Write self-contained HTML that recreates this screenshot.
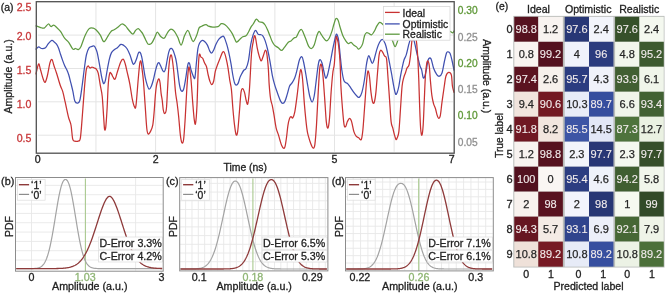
<!DOCTYPE html>
<html><head><meta charset="utf-8"><title>Figure</title>
<style>html,body{margin:0;padding:0;background:#fff;width:666px;height:293px;overflow:hidden}svg{display:block;font-family:"Liberation Sans",sans-serif;will-change:transform}</style>
</head><body>
<svg width="666" height="293" viewBox="0 0 666 293" font-family="Liberation Sans, sans-serif">
<rect width="666" height="293" fill="#fff"/>
<line x1="95.94" y1="2.70" x2="95.94" y2="151.70" stroke="#e4e4e4" stroke-width="1"/>
<line x1="155.58" y1="2.70" x2="155.58" y2="151.70" stroke="#e4e4e4" stroke-width="1"/>
<line x1="215.22" y1="2.70" x2="215.22" y2="151.70" stroke="#e4e4e4" stroke-width="1"/>
<line x1="274.86" y1="2.70" x2="274.86" y2="151.70" stroke="#e4e4e4" stroke-width="1"/>
<line x1="334.50" y1="2.70" x2="334.50" y2="151.70" stroke="#e4e4e4" stroke-width="1"/>
<line x1="394.14" y1="2.70" x2="394.14" y2="151.70" stroke="#e4e4e4" stroke-width="1"/>
<line x1="37.80" y1="35.10" x2="453.20" y2="35.10" stroke="#e4e4e4" stroke-width="1"/>
<line x1="37.80" y1="68.50" x2="453.20" y2="68.50" stroke="#e4e4e4" stroke-width="1"/>
<line x1="37.80" y1="101.80" x2="453.20" y2="101.80" stroke="#e4e4e4" stroke-width="1"/>
<line x1="37.80" y1="135.20" x2="453.20" y2="135.20" stroke="#e4e4e4" stroke-width="1"/>
<g fill="none" stroke-width="1.25" stroke-linejoin="round" stroke-linecap="round">
<path d="M36.00,25.90 C36.68,26.13 38.73,26.93 40.10,27.30 C41.47,27.67 42.83,28.65 44.20,28.10 C45.57,27.55 47.17,24.27 48.30,24.00 C49.43,23.73 50.10,26.32 51.00,26.50 C51.90,26.68 52.78,24.97 53.70,25.10 C54.62,25.23 55.37,26.25 56.50,27.30 C57.63,28.35 59.15,29.58 60.50,31.40 C61.85,33.22 63.23,36.38 64.60,38.20 C65.97,40.02 67.33,40.48 68.70,42.30 C70.07,44.12 71.67,48.07 72.80,49.10 C73.93,50.13 74.58,48.42 75.50,48.50 C76.42,48.58 77.38,49.95 78.30,49.60 C79.22,49.25 79.87,48.75 81.00,46.40 C82.13,44.05 83.73,38.47 85.10,35.50 C86.47,32.53 87.83,29.83 89.20,28.60 C90.57,27.37 92.13,27.87 93.30,28.10 C94.47,28.33 95.03,28.83 96.20,30.00 C97.37,31.17 99.12,33.22 100.30,35.10 C101.48,36.98 102.45,40.43 103.30,41.30 C104.15,42.17 104.53,41.33 105.40,40.30 C106.27,39.27 107.48,36.65 108.50,35.10 C109.52,33.55 110.63,31.85 111.50,31.00 C112.37,30.15 112.65,30.62 113.70,30.00 C114.75,29.38 116.43,28.30 117.80,27.30 C119.17,26.30 120.62,24.23 121.90,24.00 C123.18,23.77 124.37,24.90 125.50,25.90 C126.63,26.90 127.48,28.63 128.70,30.00 C129.92,31.37 131.67,34.02 132.80,34.10 C133.93,34.18 134.58,31.42 135.50,30.50 C136.42,29.58 137.38,28.45 138.30,28.60 C139.22,28.75 140.25,30.52 141.00,31.40 C141.75,32.28 142.05,32.55 142.80,33.90 C143.55,35.25 144.63,37.80 145.50,39.50 C146.37,41.20 147.17,43.35 148.00,44.10 C148.83,44.85 149.80,44.28 150.50,44.00 C151.20,43.72 151.48,43.52 152.20,42.40 C152.92,41.28 153.95,39.00 154.80,37.30 C155.65,35.60 156.32,32.33 157.30,32.20 C158.28,32.07 159.55,35.50 160.70,36.50 C161.85,37.50 163.23,38.53 164.20,38.20 C165.17,37.87 165.80,35.65 166.50,34.50 C167.20,33.35 167.65,32.20 168.40,31.30 C169.15,30.40 170.00,29.10 171.00,29.10 C172.00,29.10 173.27,29.93 174.40,31.30 C175.53,32.67 176.67,35.02 177.80,37.30 C178.93,39.58 180.07,45.28 181.20,45.00 C182.33,44.72 183.47,38.02 184.60,35.60 C185.73,33.18 187.00,30.35 188.00,30.50 C189.00,30.65 189.73,34.65 190.60,36.50 C191.47,38.35 192.20,41.75 193.20,41.60 C194.20,41.45 195.62,37.88 196.60,35.60 C197.58,33.32 198.25,29.47 199.10,27.90 C199.95,26.33 200.55,26.77 201.70,26.20 C202.85,25.63 204.87,24.50 206.00,24.50 C207.13,24.50 207.37,25.77 208.50,26.20 C209.63,26.63 211.23,27.02 212.80,27.10 C214.37,27.18 216.48,27.27 217.90,26.70 C219.32,26.13 220.17,24.07 221.30,23.70 C222.43,23.33 223.42,23.65 224.70,24.50 C225.98,25.35 227.72,27.23 229.00,28.80 C230.28,30.37 231.23,31.77 232.40,33.90 C233.57,36.03 235.13,40.33 236.00,41.60 C236.87,42.87 236.93,41.92 237.60,41.50 C238.27,41.08 239.13,39.90 240.00,39.10 C240.87,38.30 241.80,37.25 242.80,36.70 C243.80,36.15 245.07,36.55 246.00,35.80 C246.93,35.05 247.60,33.60 248.40,32.20 C249.20,30.80 250.00,28.77 250.80,27.40 C251.60,26.03 252.27,25.38 253.20,24.00 C254.13,22.62 255.42,19.47 256.40,19.10 C257.38,18.73 258.10,21.25 259.10,21.80 C260.10,22.35 261.40,21.87 262.40,22.40 C263.40,22.93 264.25,23.77 265.10,25.00 C265.95,26.23 266.70,28.00 267.50,29.80 C268.30,31.60 269.10,33.80 269.90,35.80 C270.70,37.80 271.50,40.20 272.30,41.80 C273.10,43.40 273.70,44.40 274.70,45.40 C275.70,46.40 277.17,46.97 278.30,47.80 C279.43,48.63 280.52,50.42 281.50,50.40 C282.48,50.38 283.07,49.05 284.20,47.70 C285.33,46.35 287.17,43.43 288.30,42.30 C289.43,41.17 290.10,41.58 291.00,40.90 C291.90,40.22 292.78,38.88 293.70,38.20 C294.62,37.52 295.58,37.93 296.50,36.80 C297.42,35.67 298.38,32.62 299.20,31.40 C300.02,30.18 300.72,29.28 301.40,29.50 C302.08,29.72 302.53,31.03 303.30,32.70 C304.07,34.37 305.10,37.22 306.00,39.50 C306.90,41.78 307.78,44.90 308.70,46.40 C309.62,47.90 310.58,48.73 311.50,48.50 C312.42,48.27 313.30,47.17 314.20,45.00 C315.10,42.83 316.08,37.77 316.90,35.50 C317.72,33.23 318.42,31.63 319.10,31.40 C319.78,31.17 320.23,32.97 321.00,34.10 C321.77,35.23 322.78,37.07 323.70,38.20 C324.62,39.33 325.58,40.90 326.50,40.90 C327.42,40.90 328.30,39.78 329.20,38.20 C330.10,36.62 331.13,33.68 331.90,31.40 C332.67,29.12 333.12,26.65 333.80,24.50 C334.48,22.35 335.27,19.17 336.00,18.50 C336.73,17.83 337.52,19.03 338.20,20.50 C338.88,21.97 339.33,24.80 340.10,27.30 C340.87,29.80 341.90,33.32 342.80,35.50 C343.70,37.68 344.58,39.05 345.50,40.40 C346.42,41.75 347.38,43.28 348.30,43.60 C349.22,43.92 350.10,42.07 351.00,42.30 C351.90,42.53 352.78,44.23 353.70,45.00 C354.62,45.77 355.72,46.22 356.50,46.90 C357.28,47.58 357.73,48.97 358.40,49.10 C359.07,49.23 359.78,48.62 360.50,47.70 C361.22,46.78 362.02,45.63 362.70,43.60 C363.38,41.57 363.97,37.32 364.60,35.50 C365.23,33.68 365.82,33.07 366.50,32.70 C367.18,32.33 367.87,32.93 368.70,33.30 C369.53,33.67 370.58,35.22 371.50,34.90 C372.42,34.58 373.30,32.90 374.20,31.40 C375.10,29.90 376.00,27.40 376.90,25.90 C377.80,24.40 378.68,22.72 379.60,22.40 C380.52,22.08 381.33,23.07 382.40,24.00 C383.47,24.93 385.07,26.67 386.00,28.00 C386.93,29.33 387.25,30.58 388.00,32.00 C388.75,33.42 389.77,35.08 390.50,36.50 C391.23,37.92 391.63,38.82 392.40,40.50 C393.17,42.18 394.20,46.60 395.10,46.60 C396.00,46.60 396.98,42.43 397.80,40.50 C398.62,38.57 399.13,36.42 400.00,35.00 C400.87,33.58 401.67,33.17 403.00,32.00 C404.33,30.83 406.00,28.33 408.00,28.00 C410.00,27.67 412.67,30.17 415.00,30.00 C417.33,29.83 419.50,27.83 422.00,27.00 C424.50,26.17 427.33,25.00 430.00,25.00 C432.67,25.00 435.50,26.17 438.00,27.00 C440.50,27.83 443.00,29.27 445.00,30.00 C447.00,30.73 448.72,30.93 450.00,31.40 C451.28,31.87 452.03,32.87 452.70,32.80 C453.37,32.73 453.78,31.30 454.00,31.00" stroke="#5f9a40"/>
<path d="M36.00,49.10 C36.45,48.73 37.78,47.00 38.70,46.90 C39.62,46.80 40.37,48.37 41.50,48.50 C42.63,48.63 44.37,48.52 45.50,47.70 C46.63,46.88 47.25,44.82 48.30,43.60 C49.35,42.38 50.77,40.63 51.80,40.40 C52.83,40.17 53.72,41.57 54.50,42.20 C55.28,42.83 55.82,43.18 56.50,44.20 C57.18,45.22 57.92,46.58 58.60,48.30 C59.28,50.02 59.92,52.45 60.60,54.50 C61.28,56.55 62.02,58.73 62.70,60.60 C63.38,62.47 64.02,64.17 64.70,65.70 C65.38,67.23 66.12,68.25 66.80,69.80 C67.48,71.35 68.12,72.77 68.80,75.00 C69.48,77.23 70.22,80.47 70.90,83.20 C71.58,85.93 72.25,88.43 72.90,91.40 C73.55,94.37 74.03,99.05 74.80,101.00 C75.57,102.95 76.67,103.18 77.50,103.10 C78.33,103.02 79.03,103.35 79.80,100.50 C80.57,97.65 81.30,91.67 82.10,86.00 C82.90,80.33 83.87,71.75 84.60,66.50 C85.33,61.25 85.73,57.63 86.50,54.50 C87.27,51.37 88.28,49.05 89.20,47.70 C90.12,46.35 91.18,46.68 92.00,46.40 C92.82,46.12 93.48,45.65 94.10,46.00 C94.72,46.35 95.18,47.40 95.70,48.50 C96.22,49.60 96.62,50.22 97.20,52.60 C97.78,54.98 98.52,59.05 99.20,62.80 C99.88,66.55 100.72,72.02 101.30,75.10 C101.88,78.18 102.27,79.87 102.70,81.30 C103.13,82.73 103.45,83.87 103.90,83.70 C104.35,83.53 104.82,82.75 105.40,80.30 C105.98,77.85 106.72,72.60 107.40,69.00 C108.08,65.40 108.82,61.43 109.50,58.70 C110.18,55.97 110.65,54.13 111.50,52.60 C112.35,51.07 113.57,50.37 114.60,49.50 C115.63,48.63 116.67,48.25 117.70,47.40 C118.73,46.55 119.78,44.73 120.80,44.40 C121.82,44.07 122.78,44.72 123.80,45.40 C124.82,46.08 125.87,46.90 126.90,48.50 C127.93,50.10 129.02,52.50 130.00,55.00 C130.98,57.50 132.05,62.08 132.80,63.50 C133.55,64.92 133.88,64.25 134.50,63.50 C135.12,62.75 135.87,60.72 136.50,59.00 C137.13,57.28 137.72,54.32 138.30,53.20 C138.88,52.08 139.45,51.77 140.00,52.30 C140.55,52.83 141.08,54.35 141.60,56.40 C142.12,58.45 142.52,61.18 143.10,64.60 C143.68,68.02 144.42,73.48 145.10,76.90 C145.78,80.32 146.52,83.05 147.20,85.10 C147.88,87.15 148.52,89.02 149.20,89.20 C149.88,89.38 150.62,87.73 151.30,86.20 C151.98,84.67 152.62,82.57 153.30,80.00 C153.98,77.43 154.72,73.43 155.40,70.80 C156.08,68.17 156.82,65.57 157.40,64.20 C157.98,62.83 158.38,62.37 158.90,62.60 C159.42,62.83 159.88,64.30 160.50,65.60 C161.12,66.90 161.98,69.37 162.60,70.40 C163.22,71.43 163.70,72.08 164.20,71.80 C164.70,71.52 165.12,70.58 165.60,68.70 C166.08,66.82 166.58,63.23 167.10,60.50 C167.62,57.77 168.15,54.28 168.70,52.30 C169.25,50.32 169.78,49.12 170.40,48.60 C171.02,48.08 171.72,48.23 172.40,49.20 C173.08,50.17 173.82,52.17 174.50,54.40 C175.18,56.63 175.68,57.62 176.50,62.60 C177.32,67.58 178.60,79.60 179.40,84.30 C180.20,89.00 180.60,89.98 181.30,90.80 C182.00,91.62 182.85,91.37 183.60,89.20 C184.35,87.03 185.10,81.85 185.80,77.80 C186.50,73.75 187.20,67.33 187.80,64.90 C188.40,62.47 188.87,62.40 189.40,63.20 C189.93,64.00 190.35,67.53 191.00,69.70 C191.65,71.87 192.65,74.85 193.30,76.20 C193.95,77.55 194.42,79.67 194.90,77.80 C195.38,75.93 195.70,69.85 196.20,65.00 C196.70,60.15 197.30,52.42 197.90,48.70 C198.50,44.98 199.08,44.10 199.80,42.70 C200.52,41.30 201.40,40.50 202.20,40.30 C203.00,40.10 203.73,40.70 204.60,41.50 C205.47,42.30 206.53,43.50 207.40,45.10 C208.27,46.70 209.08,49.78 209.80,51.10 C210.52,52.42 211.05,53.20 211.70,53.00 C212.35,52.80 212.97,51.42 213.70,49.90 C214.43,48.38 215.23,45.70 216.10,43.90 C216.97,42.10 217.83,40.37 218.90,39.10 C219.97,37.83 221.62,36.62 222.50,36.30 C223.38,35.98 223.52,35.93 224.20,37.20 C224.88,38.47 225.88,41.58 226.60,43.90 C227.32,46.22 227.78,47.90 228.50,51.10 C229.22,54.30 230.18,59.12 230.90,63.10 C231.62,67.08 232.20,71.73 232.80,75.00 C233.40,78.27 233.95,81.02 234.50,82.70 C235.05,84.38 235.50,84.98 236.10,85.10 C236.70,85.22 237.45,84.68 238.10,83.40 C238.75,82.12 239.40,79.00 240.00,77.40 C240.60,75.80 241.03,75.03 241.70,73.80 C242.37,72.57 243.28,70.87 244.00,70.00 C244.72,69.13 245.27,70.12 246.00,68.60 C246.73,67.08 247.60,64.97 248.40,60.90 C249.20,56.83 250.00,48.58 250.80,44.20 C251.60,39.82 252.40,36.92 253.20,34.60 C254.00,32.28 254.80,30.38 255.60,30.30 C256.40,30.22 257.20,33.38 258.00,34.10 C258.80,34.82 259.60,34.32 260.40,34.60 C261.20,34.88 262.02,34.80 262.80,35.80 C263.58,36.80 264.32,38.40 265.10,40.60 C265.88,42.80 266.70,45.62 267.50,49.00 C268.30,52.38 269.10,56.52 269.90,60.90 C270.70,65.28 271.50,71.30 272.30,75.30 C273.10,79.30 273.90,82.12 274.70,84.90 C275.50,87.68 276.12,89.30 277.10,92.00 C278.08,94.70 279.65,99.22 280.60,101.10 C281.55,102.98 282.07,103.30 282.80,103.30 C283.53,103.30 284.27,102.58 285.00,101.10 C285.73,99.62 286.43,96.92 287.20,94.40 C287.97,91.88 288.77,87.95 289.60,86.00 C290.43,84.05 291.33,84.07 292.20,82.70 C293.07,81.33 293.98,79.97 294.80,77.80 C295.62,75.63 296.33,72.67 297.10,69.70 C297.87,66.73 298.60,62.17 299.40,60.00 C300.20,57.83 301.20,56.37 301.90,56.70 C302.60,57.03 302.95,59.12 303.60,62.00 C304.25,64.88 305.10,70.00 305.80,74.00 C306.50,78.00 307.13,82.25 307.80,86.00 C308.47,89.75 309.07,93.83 309.80,96.50 C310.53,99.17 311.47,102.08 312.20,102.00 C312.93,101.92 313.60,99.00 314.20,96.00 C314.80,93.00 315.25,88.33 315.80,84.00 C316.35,79.67 317.00,73.67 317.50,70.00 C318.00,66.33 318.35,63.73 318.80,62.00 C319.25,60.27 319.67,59.43 320.20,59.60 C320.73,59.77 321.40,61.10 322.00,63.00 C322.60,64.90 323.20,68.50 323.80,71.00 C324.40,73.50 324.98,77.33 325.60,78.00 C326.22,78.67 326.85,77.00 327.50,75.00 C328.15,73.00 328.90,68.83 329.50,66.00 C330.10,63.17 330.47,61.27 331.10,58.00 C331.73,54.73 332.48,50.23 333.30,46.40 C334.12,42.57 335.32,36.82 336.00,35.00 C336.68,33.18 336.95,34.52 337.40,35.50 C337.85,36.48 338.25,37.73 338.70,40.90 C339.15,44.07 339.58,49.65 340.10,54.50 C340.62,59.35 341.13,65.57 341.80,70.00 C342.47,74.43 343.17,78.87 344.10,81.10 C345.03,83.33 346.32,82.32 347.40,83.40 C348.48,84.48 349.53,86.10 350.60,87.60 C351.67,89.10 352.72,90.95 353.80,92.40 C354.88,93.85 356.17,95.48 357.10,96.30 C358.03,97.12 358.60,97.95 359.40,97.30 C360.20,96.65 361.05,95.37 361.90,92.40 C362.75,89.43 363.78,83.90 364.50,79.50 C365.22,75.10 365.70,69.42 366.20,66.00 C366.70,62.58 367.07,60.75 367.50,59.00 C367.93,57.25 368.30,55.42 368.80,55.50 C369.30,55.58 369.92,58.17 370.50,59.50 C371.08,60.83 371.72,63.42 372.30,63.50 C372.88,63.58 373.23,62.40 374.00,60.00 C374.77,57.60 375.97,52.05 376.90,49.10 C377.83,46.15 378.68,43.90 379.60,42.30 C380.52,40.70 381.48,39.28 382.40,39.50 C383.32,39.72 384.28,41.55 385.10,43.60 C385.92,45.65 386.48,48.15 387.30,51.80 C388.12,55.45 389.25,61.63 390.00,65.50 C390.75,69.37 391.18,71.58 391.80,75.00 C392.42,78.42 393.07,82.82 393.70,86.00 C394.33,89.18 395.02,93.03 395.60,94.10 C396.18,95.17 396.65,93.75 397.20,92.40 C397.75,91.05 398.35,88.70 398.90,86.00 C399.45,83.30 399.97,79.18 400.50,76.20 C401.03,73.22 401.52,70.80 402.10,68.10 C402.68,65.40 403.30,62.25 404.00,60.00 C404.70,57.75 405.47,57.32 406.30,54.60 C407.13,51.88 408.22,46.47 409.00,43.70 C409.78,40.93 410.33,38.95 411.00,38.00 C411.67,37.05 412.42,37.28 413.00,38.00 C413.58,38.72 413.80,39.53 414.50,42.30 C415.20,45.07 416.28,50.65 417.20,54.60 C418.12,58.55 419.27,63.48 420.00,66.00 C420.73,68.52 421.07,67.73 421.60,69.70 C422.13,71.67 422.67,76.72 423.20,77.80 C423.73,78.88 424.27,77.55 424.80,76.20 C425.33,74.85 425.85,72.40 426.40,69.70 C426.95,67.00 427.35,61.83 428.10,60.00 C428.85,58.17 429.98,57.32 430.90,58.70 C431.82,60.08 432.62,65.65 433.60,68.30 C434.58,70.95 435.83,73.28 436.80,74.60 C437.77,75.92 438.53,76.47 439.40,76.20 C440.27,75.93 441.18,75.37 442.00,73.00 C442.82,70.63 443.55,65.33 444.30,62.00 C445.05,58.67 445.88,54.68 446.50,53.00 C447.12,51.32 447.42,51.85 448.00,51.90 C448.58,51.95 449.35,51.95 450.00,53.30 C450.65,54.65 451.23,57.22 451.90,60.00 C452.57,62.78 453.65,68.33 454.00,70.00" stroke="#4050b0"/>
<path d="M36.00,74.00 C36.43,72.33 37.85,64.70 38.60,64.00 C39.35,63.30 39.73,67.30 40.50,69.80 C41.27,72.30 42.42,76.93 43.20,79.00 C43.98,81.07 44.52,82.70 45.20,82.20 C45.88,81.70 46.50,79.25 47.30,76.00 C48.10,72.75 49.22,65.43 50.00,62.70 C50.78,59.97 51.33,59.10 52.00,59.60 C52.67,60.10 53.25,63.47 54.00,65.70 C54.75,67.93 55.73,70.62 56.50,73.00 C57.27,75.38 57.92,77.78 58.60,80.00 C59.28,82.22 59.92,84.40 60.60,86.30 C61.28,88.20 61.93,88.75 62.70,91.40 C63.47,94.05 64.25,97.97 65.20,102.20 C66.15,106.43 67.43,113.00 68.40,116.80 C69.37,120.60 70.28,121.30 71.00,125.00 C71.72,128.70 72.05,136.32 72.70,139.00 C73.35,141.68 73.98,140.75 74.90,141.10 C75.82,141.45 77.28,141.65 78.20,141.10 C79.12,140.55 79.70,142.15 80.40,137.80 C81.10,133.45 81.70,123.63 82.40,115.00 C83.10,106.37 83.95,93.55 84.60,86.00 C85.25,78.45 85.73,73.03 86.30,69.70 C86.87,66.37 87.38,66.28 88.00,66.00 C88.62,65.72 89.33,67.83 90.00,68.00 C90.67,68.17 91.32,67.00 92.00,67.00 C92.68,67.00 93.40,67.67 94.10,68.00 C94.80,68.33 95.52,68.15 96.20,69.00 C96.88,69.85 97.52,70.37 98.20,73.10 C98.88,75.83 99.63,81.55 100.30,85.40 C100.97,89.25 101.63,90.82 102.20,96.20 C102.77,101.58 103.30,112.17 103.70,117.70 C104.10,123.23 104.25,127.87 104.60,129.40 C104.95,130.93 105.38,130.38 105.80,126.90 C106.22,123.42 106.68,115.68 107.10,108.50 C107.52,101.32 107.85,89.70 108.30,83.80 C108.75,77.90 109.27,74.73 109.80,73.10 C110.33,71.47 110.97,73.35 111.50,74.00 C112.03,74.65 112.40,76.13 113.00,77.00 C113.60,77.87 114.35,80.12 115.10,79.20 C115.85,78.28 116.58,74.32 117.50,71.50 C118.42,68.68 119.67,64.35 120.60,62.30 C121.53,60.25 122.33,58.95 123.10,59.20 C123.87,59.45 124.48,61.48 125.20,63.80 C125.92,66.12 126.63,69.77 127.40,73.10 C128.17,76.43 128.98,79.45 129.80,83.80 C130.62,88.15 131.52,95.35 132.30,99.20 C133.08,103.05 133.88,105.87 134.50,106.90 C135.12,107.93 135.38,109.97 136.00,105.40 C136.62,100.83 137.57,86.53 138.20,79.50 C138.83,72.47 139.33,66.20 139.80,63.20 C140.27,60.20 140.63,60.58 141.00,61.50 C141.37,62.42 141.60,65.50 142.00,68.70 C142.40,71.90 142.88,74.72 143.40,80.70 C143.92,86.68 144.53,96.63 145.10,104.60 C145.67,112.57 146.28,123.60 146.80,128.50 C147.32,133.40 147.58,133.52 148.20,134.00 C148.82,134.48 149.73,132.92 150.50,131.40 C151.27,129.88 152.17,128.47 152.80,124.90 C153.43,121.33 153.88,114.82 154.30,110.00 C154.72,105.18 154.95,100.00 155.30,96.00 C155.65,92.00 155.95,88.67 156.40,86.00 C156.85,83.33 157.55,81.17 158.00,80.00 C158.45,78.83 158.75,78.48 159.10,79.00 C159.45,79.52 159.77,80.72 160.10,83.10 C160.43,85.48 160.75,90.48 161.10,93.30 C161.45,96.12 161.83,97.22 162.20,100.00 C162.57,102.78 162.87,107.75 163.30,110.00 C163.73,112.25 164.28,113.72 164.80,113.50 C165.32,113.28 165.95,112.62 166.40,108.70 C166.85,104.78 167.15,96.12 167.50,90.00 C167.85,83.88 168.15,77.00 168.50,72.00 C168.85,67.00 169.22,62.83 169.60,60.00 C169.98,57.17 170.40,55.42 170.80,55.00 C171.20,54.58 171.50,54.67 172.00,57.50 C172.50,60.33 173.22,66.25 173.80,72.00 C174.38,77.75 174.95,86.83 175.50,92.00 C176.05,97.17 176.57,98.83 177.10,103.00 C177.63,107.17 178.17,111.73 178.70,117.00 C179.23,122.27 179.77,130.32 180.30,134.60 C180.83,138.88 181.35,141.88 181.90,142.70 C182.45,143.52 183.05,143.55 183.60,139.50 C184.15,135.45 184.67,126.78 185.20,118.40 C185.73,110.02 186.27,97.32 186.80,89.20 C187.33,81.08 187.97,73.22 188.40,69.70 C188.83,66.18 188.97,66.47 189.40,68.10 C189.83,69.73 190.45,73.82 191.00,79.50 C191.55,85.18 192.15,95.45 192.70,102.20 C193.25,108.95 193.82,116.50 194.30,120.00 C194.78,123.50 195.15,125.70 195.60,123.20 C196.05,120.70 196.57,113.87 197.00,105.00 C197.43,96.13 197.82,78.38 198.20,70.00 C198.58,61.62 198.83,56.85 199.30,54.70 C199.77,52.55 200.43,56.50 201.00,57.10 C201.57,57.70 202.10,57.30 202.70,58.30 C203.30,59.30 203.97,61.70 204.60,63.10 C205.23,64.50 205.90,64.72 206.50,66.70 C207.10,68.68 207.65,72.62 208.20,75.00 C208.75,77.38 209.22,79.40 209.80,81.00 C210.38,82.60 211.05,84.60 211.70,84.60 C212.35,84.60 213.10,83.20 213.70,81.00 C214.30,78.80 214.63,74.18 215.30,71.40 C215.97,68.62 216.90,66.48 217.70,64.30 C218.50,62.12 219.30,60.30 220.10,58.30 C220.90,56.30 221.82,53.30 222.50,52.30 C223.18,51.30 223.60,51.30 224.20,52.30 C224.80,53.30 225.47,55.72 226.10,58.30 C226.73,60.88 227.40,64.22 228.00,67.80 C228.60,71.38 229.13,76.20 229.70,79.80 C230.27,83.40 230.87,84.58 231.40,89.40 C231.93,94.22 232.38,102.78 232.90,108.70 C233.42,114.62 233.97,120.58 234.50,124.90 C235.03,129.22 235.57,133.52 236.10,134.60 C236.63,135.68 237.15,135.18 237.70,131.40 C238.25,127.62 238.85,118.40 239.40,111.90 C239.95,105.40 240.47,96.30 241.00,92.40 C241.53,88.50 242.02,88.50 242.60,88.50 C243.18,88.50 243.90,90.40 244.50,92.40 C245.10,94.40 245.65,98.60 246.20,100.50 C246.75,102.40 247.27,105.55 247.80,103.80 C248.33,102.05 248.78,98.35 249.40,90.00 C250.02,81.65 250.87,61.73 251.50,53.70 C252.13,45.67 252.72,44.78 253.20,41.80 C253.68,38.82 254.00,36.40 254.40,35.80 C254.80,35.20 255.13,36.20 255.60,38.20 C256.07,40.20 256.60,44.82 257.20,47.80 C257.80,50.78 258.55,53.92 259.20,56.10 C259.85,58.28 260.50,60.70 261.10,60.90 C261.70,61.10 262.32,58.50 262.80,57.30 C263.28,56.10 263.57,54.90 264.00,53.70 C264.43,52.50 264.93,50.10 265.40,50.10 C265.87,50.10 266.32,50.70 266.80,53.70 C267.28,56.70 267.90,62.90 268.30,68.10 C268.70,73.30 268.82,79.77 269.20,84.90 C269.58,90.03 270.08,95.45 270.60,98.90 C271.12,102.35 271.75,103.02 272.30,105.60 C272.85,108.18 273.27,110.70 273.90,114.40 C274.53,118.10 275.37,124.47 276.10,127.80 C276.83,131.13 277.67,132.37 278.30,134.40 C278.93,136.43 279.33,138.13 279.90,140.00 C280.47,141.87 281.12,144.23 281.70,145.60 C282.28,146.97 282.85,148.02 283.40,148.20 C283.95,148.38 284.47,148.62 285.00,146.70 C285.53,144.78 286.12,140.22 286.60,136.70 C287.08,133.18 287.43,128.57 287.90,125.60 C288.37,122.63 288.88,120.38 289.40,118.90 C289.92,117.42 290.43,116.88 291.00,116.70 C291.57,116.52 292.17,118.60 292.80,117.80 C293.43,117.00 294.08,115.58 294.80,111.90 C295.52,108.22 296.33,101.65 297.10,95.70 C297.87,89.75 298.75,80.53 299.40,76.20 C300.05,71.87 300.47,69.15 301.00,69.70 C301.53,70.25 302.02,73.55 302.60,79.50 C303.18,85.45 303.80,97.30 304.50,105.40 C305.20,113.50 306.15,122.97 306.80,128.10 C307.45,133.23 307.70,133.50 308.40,136.20 C309.10,138.90 310.18,142.30 311.00,144.30 C311.82,146.30 312.65,148.20 313.30,148.20 C313.95,148.20 314.37,148.18 314.90,144.30 C315.43,140.42 315.95,133.55 316.50,124.90 C317.05,116.25 317.65,101.87 318.20,92.40 C318.75,82.93 319.27,72.68 319.80,68.10 C320.33,63.52 320.87,63.55 321.40,64.90 C321.93,66.25 322.45,70.53 323.00,76.20 C323.55,81.87 324.15,91.33 324.70,98.90 C325.25,106.47 325.77,116.73 326.30,121.60 C326.83,126.47 327.37,128.63 327.90,128.10 C328.43,127.57 328.97,124.35 329.50,118.40 C330.03,112.45 330.55,99.97 331.10,92.40 C331.65,84.83 332.25,77.87 332.80,73.00 C333.35,68.13 333.87,69.00 334.40,63.20 C334.93,57.40 335.50,42.15 336.00,38.20 C336.50,34.25 336.95,38.13 337.40,39.50 C337.85,40.87 338.25,42.53 338.70,46.40 C339.15,50.27 339.73,56.10 340.10,62.70 C340.47,69.30 340.50,78.33 340.90,86.00 C341.30,93.67 341.97,102.22 342.50,108.70 C343.03,115.18 343.57,121.93 344.10,124.90 C344.63,127.87 345.15,127.05 345.70,126.50 C346.25,125.95 346.75,122.95 347.40,121.60 C348.05,120.25 348.90,118.40 349.60,118.40 C350.30,118.40 350.90,119.43 351.60,121.60 C352.30,123.77 353.05,128.97 353.80,131.40 C354.55,133.83 355.28,135.13 356.10,136.20 C356.92,137.27 357.83,137.25 358.70,137.80 C359.57,138.35 360.60,140.85 361.30,139.50 C362.00,138.15 362.37,134.83 362.90,129.70 C363.43,124.57 363.95,115.98 364.50,108.70 C365.05,101.42 365.65,92.22 366.20,86.00 C366.75,79.78 367.27,73.03 367.80,71.40 C368.33,69.77 368.87,72.70 369.40,76.20 C369.93,79.70 370.45,88.07 371.00,92.40 C371.55,96.73 372.15,100.57 372.70,102.20 C373.25,103.83 373.77,103.83 374.30,102.20 C374.83,100.57 375.37,97.27 375.90,92.40 C376.43,87.53 376.97,79.23 377.50,73.00 C378.03,66.77 378.60,58.77 379.10,55.00 C379.60,51.23 379.95,50.93 380.50,50.40 C381.05,49.87 381.73,50.88 382.40,51.80 C383.07,52.72 383.82,54.77 384.50,55.90 C385.18,57.03 385.93,55.22 386.50,58.60 C387.07,61.98 387.40,69.48 387.90,76.20 C388.40,82.92 388.97,91.33 389.50,98.90 C390.03,106.47 390.55,116.73 391.10,121.60 C391.65,126.47 392.25,125.93 392.80,128.10 C393.35,130.27 393.87,132.70 394.40,134.60 C394.93,136.50 395.53,138.97 396.00,139.50 C396.47,140.03 396.72,139.15 397.20,137.80 C397.68,136.45 398.35,136.25 398.90,131.40 C399.45,126.55 399.97,116.27 400.50,108.70 C401.03,101.13 401.57,91.15 402.10,86.00 C402.63,80.85 403.15,79.97 403.70,77.80 C404.25,75.63 404.85,74.62 405.40,73.00 C405.95,71.38 406.40,69.43 407.00,68.10 C407.60,66.77 408.42,67.10 409.00,65.00 C409.58,62.90 410.00,59.58 410.50,55.50 C411.00,51.42 411.33,44.75 412.00,40.50 C412.67,36.25 413.75,29.75 414.50,30.00 C415.25,30.25 416.03,38.50 416.50,42.00 C416.97,45.50 417.05,47.75 417.30,51.00 C417.55,54.25 417.75,56.67 418.00,61.50 C418.25,66.33 418.53,72.75 418.80,80.00 C419.07,87.25 419.30,97.00 419.60,105.00 C419.90,113.00 420.22,122.97 420.60,128.00 C420.98,133.03 421.47,135.72 421.90,135.20 C422.33,134.68 422.80,130.77 423.20,124.90 C423.60,119.03 423.95,107.82 424.30,100.00 C424.65,92.18 424.93,83.83 425.30,78.00 C425.67,72.17 426.08,67.87 426.50,65.00 C426.92,62.13 427.33,60.63 427.80,60.80 C428.27,60.97 428.88,62.88 429.30,66.00 C429.72,69.12 429.87,74.55 430.30,79.50 C430.73,84.45 431.35,91.65 431.90,95.70 C432.45,99.75 433.00,101.63 433.60,103.80 C434.20,105.97 434.92,106.82 435.50,108.70 C436.08,110.58 436.55,113.48 437.10,115.10 C437.65,116.72 438.25,118.40 438.80,118.40 C439.35,118.40 439.87,117.80 440.40,115.10 C440.93,112.40 441.35,107.05 442.00,102.20 C442.65,97.35 443.65,90.33 444.30,86.00 C444.95,81.67 445.18,78.47 445.90,76.20 C446.62,73.93 447.68,72.58 448.60,72.40 C449.52,72.22 450.77,72.83 451.40,75.10 C452.03,77.37 451.97,83.12 452.40,86.00 C452.83,88.88 453.73,91.33 454.00,92.40" stroke="#c83232"/>
</g>
<rect x="383.4" y="6.4" width="66.6" height="33.8" fill="#fff" stroke="#d8d8d8" stroke-width="0.8"/>
<line x1="385" y1="12.4" x2="399.7" y2="12.4" stroke="#c83232" stroke-width="1.3"/>
<line x1="385" y1="23.9" x2="399.7" y2="23.9" stroke="#4050b0" stroke-width="1.3"/>
<line x1="385" y1="34.2" x2="399.7" y2="34.2" stroke="#5f9a40" stroke-width="1.3"/>
<g font-size="10.4" fill="#222" stroke="#222" stroke-width="0.30">
<text x="402.6" y="16.8">Ideal</text>
<text x="402.6" y="27.6">Optimistic</text>
<text x="402.6" y="37.8">Realistic</text>
</g>
<rect x="36.30" y="1.70" width="417.90" height="151.50" fill="none" stroke="#505050" stroke-width="1.3"/>
<g font-size="10.6" fill="#c8383a" stroke="#c8383a" stroke-width="0.30" text-anchor="end">
<text x="31.4" y="11.3">2.5</text>
<text x="31.4" y="40.4">2.0</text>
<text x="31.4" y="73.6">1.5</text>
<text x="31.4" y="108.1">1.0</text>
<text x="31.4" y="142.0">0.5</text>
</g>
<text x="457.8" y="14.2" font-size="10.2" fill="#5f9838" stroke="#5f9838" stroke-width="0.30">0.30</text>
<text x="457.8" y="40.5" font-size="10.2" fill="#909090" stroke="#909090" stroke-width="0.30">0.25</text>
<text x="457.8" y="66.8" font-size="10.2" fill="#5f9838" stroke="#5f9838" stroke-width="0.30">0.20</text>
<text x="457.8" y="93.1" font-size="10.2" fill="#909090" stroke="#909090" stroke-width="0.30">0.15</text>
<text x="457.8" y="119.4" font-size="10.2" fill="#5f9838" stroke="#5f9838" stroke-width="0.30">0.10</text>
<text x="457.8" y="145.8" font-size="10.2" fill="#909090" stroke="#909090" stroke-width="0.30">0.05</text>
<g font-size="10.6" fill="#222" stroke="#222" stroke-width="0.30" text-anchor="middle">
<text x="37.8" y="162.7">0</text>
<text x="155.6" y="162.7">2</text>
<text x="334.5" y="162.7">5</text>
<text x="451.8" y="162.7">7</text>
</g>
<text x="223.5" y="170.5" font-size="10.4" fill="#222" stroke="#222" stroke-width="0.30">Time (ns)</text>
<text x="0.8" y="10.6" font-size="10.4" fill="#222" stroke="#222" stroke-width="0.30">(a)</text>
<text transform="translate(11.9,76.4) rotate(-90)" text-anchor="middle" font-size="10.5" fill="#222" stroke="#222" stroke-width="0.30">Amplitude (a.u.)</text>
<text transform="translate(482.6,76.2) rotate(90)" text-anchor="middle" font-size="10.5" fill="#222" stroke="#222" stroke-width="0.30">Amplitude (a.u.)</text>
<line x1="31.50" y1="178.00" x2="31.50" y2="270.70" stroke="#e8e8e8" stroke-width="0.9"/>
<line x1="135.60" y1="178.00" x2="135.60" y2="270.70" stroke="#e8e8e8" stroke-width="0.9"/>
<line x1="16.00" y1="185.40" x2="162.70" y2="185.40" stroke="#e8e8e8" stroke-width="0.9"/>
<line x1="16.00" y1="194.73" x2="162.70" y2="194.73" stroke="#e8e8e8" stroke-width="0.9"/>
<line x1="16.00" y1="204.06" x2="162.70" y2="204.06" stroke="#e8e8e8" stroke-width="0.9"/>
<line x1="16.00" y1="213.39" x2="162.70" y2="213.39" stroke="#e8e8e8" stroke-width="0.9"/>
<line x1="16.00" y1="222.72" x2="162.70" y2="222.72" stroke="#e8e8e8" stroke-width="0.9"/>
<line x1="16.00" y1="232.05" x2="162.70" y2="232.05" stroke="#e8e8e8" stroke-width="0.9"/>
<line x1="16.00" y1="241.38" x2="162.70" y2="241.38" stroke="#e8e8e8" stroke-width="0.9"/>
<line x1="16.00" y1="250.71" x2="162.70" y2="250.71" stroke="#e8e8e8" stroke-width="0.9"/>
<line x1="16.00" y1="260.04" x2="162.70" y2="260.04" stroke="#e8e8e8" stroke-width="0.9"/>
<line x1="85.40" y1="178.50" x2="85.40" y2="271.20" stroke="#a9c98f" stroke-width="1.1"/>
<path d="M16.20,268.60 L16.70,268.60 L17.20,268.60 L17.70,268.60 L18.20,268.60 L18.70,268.60 L19.20,268.60 L19.70,268.60 L20.20,268.60 L20.70,268.60 L21.20,268.60 L21.70,268.60 L22.20,268.60 L22.70,268.60 L23.20,268.60 L23.70,268.60 L24.20,268.60 L24.70,268.60 L25.20,268.60 L25.70,268.60 L26.20,268.60 L26.70,268.60 L27.20,268.60 L27.70,268.60 L28.20,268.59 L28.70,268.59 L29.20,268.59 L29.70,268.59 L30.20,268.58 L30.70,268.58 L31.20,268.57 L31.70,268.57 L32.20,268.56 L32.70,268.54 L33.20,268.53 L33.70,268.51 L34.20,268.48 L34.70,268.45 L35.20,268.42 L35.70,268.37 L36.20,268.31 L36.70,268.24 L37.20,268.16 L37.70,268.06 L38.20,267.94 L38.70,267.80 L39.20,267.63 L39.70,267.43 L40.20,267.19 L40.70,266.91 L41.20,266.59 L41.70,266.22 L42.20,265.78 L42.70,265.29 L43.20,264.72 L43.70,264.08 L44.20,263.35 L44.70,262.53 L45.20,261.62 L45.70,260.59 L46.20,259.46 L46.70,258.20 L47.20,256.82 L47.70,255.32 L48.20,253.68 L48.70,251.90 L49.20,249.99 L49.70,247.94 L50.20,245.75 L50.70,243.44 L51.20,240.99 L51.70,238.43 L52.20,235.75 L52.70,232.97 L53.20,230.10 L53.70,227.15 L54.20,224.14 L54.70,221.09 L55.20,218.01 L55.70,214.93 L56.20,211.86 L56.70,208.82 L57.20,205.85 L57.70,202.95 L58.20,200.14 L58.70,197.46 L59.20,194.91 L59.70,192.52 L60.20,190.31 L60.70,188.28 L61.20,186.44 L61.70,184.82 L62.20,183.41 L62.70,182.23 L63.20,181.26 L63.70,180.52 L64.20,179.99 L64.70,179.66 L65.20,179.51 L65.70,179.51 L66.20,179.65 L66.70,179.97 L67.20,180.49 L67.70,181.23 L68.20,182.18 L68.70,183.36 L69.20,184.76 L69.70,186.37 L70.20,188.20 L70.70,190.22 L71.20,192.43 L71.70,194.82 L72.20,197.36 L72.70,200.03 L73.20,202.83 L73.70,205.73 L74.20,208.70 L74.70,211.74 L75.20,214.80 L75.70,217.89 L76.20,220.97 L76.70,224.02 L77.20,227.03 L77.70,229.98 L78.20,232.85 L78.70,235.64 L79.20,238.32 L79.70,240.89 L80.20,243.34 L80.70,245.66 L81.20,247.85 L81.70,249.91 L82.20,251.83 L82.70,253.61 L83.20,255.25 L83.70,256.76 L84.20,258.15 L84.70,259.41 L85.20,260.55 L85.70,261.58 L86.20,262.50 L86.70,263.32 L87.20,264.05 L87.70,264.70 L88.20,265.27 L88.70,265.77 L89.20,266.20 L89.70,266.58 L90.20,266.90 L90.70,267.18 L91.20,267.42 L91.70,267.62 L92.20,267.79 L92.70,267.94 L93.20,268.06 L93.70,268.16 L94.20,268.24 L94.70,268.31 L95.20,268.37 L95.70,268.41 L96.20,268.45 L96.70,268.48 L97.20,268.51 L97.70,268.53 L98.20,268.54 L98.70,268.56 L99.20,268.57 L99.70,268.57 L100.20,268.58 L100.70,268.58 L101.20,268.59 L101.70,268.59 L102.20,268.59 L102.70,268.59 L103.20,268.60 L103.70,268.60 L104.20,268.60 L104.70,268.60 L105.20,268.60 L105.70,268.60 L106.20,268.60 L106.70,268.60 L107.20,268.60 L107.70,268.60 L108.20,268.60 L108.70,268.60 L109.20,268.60 L109.70,268.60 L110.20,268.60 L110.70,268.60 L111.20,268.60 L111.70,268.60 L112.20,268.60 L112.70,268.60 L113.20,268.60 L113.70,268.60 L114.20,268.60 L114.70,268.60 L115.20,268.60 L115.70,268.60 L116.20,268.60 L116.70,268.60 L117.20,268.60 L117.70,268.60 L118.20,268.60 L118.70,268.60 L119.20,268.60 L119.70,268.60 L120.20,268.60 L120.70,268.60 L121.20,268.60 L121.70,268.60 L122.20,268.60 L122.70,268.60 L123.20,268.60 L123.70,268.60 L124.20,268.60 L124.70,268.60 L125.20,268.60 L125.70,268.60 L126.20,268.60 L126.70,268.60 L127.20,268.60 L127.70,268.60 L128.20,268.60 L128.70,268.60 L129.20,268.60 L129.70,268.60 L130.20,268.60 L130.70,268.60 L131.20,268.60 L131.70,268.60 L132.20,268.60 L132.70,268.60 L133.20,268.60 L133.70,268.60 L134.20,268.60 L134.70,268.60 L135.20,268.60 L135.70,268.60 L136.20,268.60 L136.70,268.60 L137.20,268.60 L137.70,268.60 L138.20,268.60 L138.70,268.60 L139.20,268.60 L139.70,268.60 L140.20,268.60 L140.70,268.60 L141.20,268.60 L141.70,268.60 L142.20,268.60 L142.70,268.60 L143.20,268.60 L143.70,268.60 L144.20,268.60 L144.70,268.60 L145.20,268.60 L145.70,268.60 L146.20,268.60 L146.70,268.60 L147.20,268.60 L147.70,268.60 L148.20,268.60 L148.70,268.60 L149.20,268.60 L149.70,268.60 L150.20,268.60 L150.70,268.60 L151.20,268.60 L151.70,268.60 L152.20,268.60 L152.70,268.60 L153.20,268.60 L153.70,268.60 L154.20,268.60 L154.70,268.60 L155.20,268.60 L155.70,268.60 L156.20,268.60 L156.70,268.60 L157.20,268.60 L157.70,268.60 L158.20,268.60 L158.70,268.60 L159.20,268.60 L159.70,268.60 L160.20,268.60 L160.70,268.60 L161.20,268.60 L161.70,268.60 L162.20,268.60" fill="none" stroke="#a3a3a3" stroke-width="1.2"/>
<path d="M16.20,268.60 L16.70,268.60 L17.20,268.60 L17.70,268.60 L18.20,268.60 L18.70,268.60 L19.20,268.60 L19.70,268.60 L20.20,268.60 L20.70,268.60 L21.20,268.60 L21.70,268.60 L22.20,268.60 L22.70,268.60 L23.20,268.60 L23.70,268.60 L24.20,268.60 L24.70,268.60 L25.20,268.60 L25.70,268.60 L26.20,268.60 L26.70,268.60 L27.20,268.60 L27.70,268.60 L28.20,268.60 L28.70,268.60 L29.20,268.60 L29.70,268.60 L30.20,268.60 L30.70,268.60 L31.20,268.60 L31.70,268.60 L32.20,268.60 L32.70,268.60 L33.20,268.60 L33.70,268.60 L34.20,268.60 L34.70,268.60 L35.20,268.60 L35.70,268.60 L36.20,268.60 L36.70,268.60 L37.20,268.60 L37.70,268.60 L38.20,268.60 L38.70,268.60 L39.20,268.60 L39.70,268.60 L40.20,268.60 L40.70,268.60 L41.20,268.60 L41.70,268.60 L42.20,268.60 L42.70,268.60 L43.20,268.60 L43.70,268.60 L44.20,268.60 L44.70,268.60 L45.20,268.60 L45.70,268.60 L46.20,268.59 L46.70,268.59 L47.20,268.59 L47.70,268.59 L48.20,268.59 L48.70,268.59 L49.20,268.59 L49.70,268.59 L50.20,268.58 L50.70,268.58 L51.20,268.58 L51.70,268.58 L52.20,268.57 L52.70,268.57 L53.20,268.57 L53.70,268.56 L54.20,268.56 L54.70,268.55 L55.20,268.54 L55.70,268.54 L56.20,268.53 L56.70,268.52 L57.20,268.51 L57.70,268.50 L58.20,268.48 L58.70,268.47 L59.20,268.45 L59.70,268.44 L60.20,268.42 L60.70,268.40 L61.20,268.37 L61.70,268.35 L62.20,268.32 L62.70,268.28 L63.20,268.25 L63.70,268.21 L64.20,268.17 L64.70,268.12 L65.20,268.07 L65.70,268.01 L66.20,267.95 L66.70,267.88 L67.20,267.80 L67.70,267.72 L68.20,267.63 L68.70,267.53 L69.20,267.43 L69.70,267.31 L70.20,267.19 L70.70,267.05 L71.20,266.90 L71.70,266.74 L72.20,266.57 L72.70,266.39 L73.20,266.18 L73.70,265.97 L74.20,265.73 L74.70,265.48 L75.20,265.21 L75.70,264.92 L76.20,264.61 L76.70,264.28 L77.20,263.93 L77.70,263.55 L78.20,263.15 L78.70,262.72 L79.20,262.26 L79.70,261.78 L80.20,261.26 L80.70,260.72 L81.20,260.14 L81.70,259.53 L82.20,258.89 L82.70,258.22 L83.20,257.50 L83.70,256.76 L84.20,255.97 L84.70,255.15 L85.20,254.29 L85.70,253.39 L86.20,252.45 L86.70,251.47 L87.20,250.45 L87.70,249.39 L88.20,248.29 L88.70,247.16 L89.20,245.98 L89.70,244.77 L90.20,243.52 L90.70,242.23 L91.20,240.91 L91.70,239.55 L92.20,238.16 L92.70,236.74 L93.20,235.30 L93.70,233.82 L94.20,232.33 L94.70,230.81 L95.20,229.27 L95.70,227.72 L96.20,226.16 L96.70,224.59 L97.20,223.02 L97.70,221.44 L98.20,219.87 L98.70,218.31 L99.20,216.76 L99.70,215.23 L100.20,213.72 L100.70,212.24 L101.20,210.79 L101.70,209.37 L102.20,208.00 L102.70,206.68 L103.20,205.41 L103.70,204.20 L104.20,203.06 L104.70,201.98 L105.20,200.98 L105.70,200.06 L106.20,199.22 L106.70,198.48 L107.20,197.83 L107.70,197.29 L108.20,196.85 L108.70,196.54 L109.20,196.35 L109.70,196.31 L110.20,196.44 L110.70,196.71 L111.20,197.10 L111.70,197.60 L112.20,198.21 L112.70,198.91 L113.20,199.71 L113.70,200.60 L114.20,201.57 L114.70,202.62 L115.20,203.74 L115.70,204.92 L116.20,206.17 L116.70,207.47 L117.20,208.82 L117.70,210.22 L118.20,211.65 L118.70,213.12 L119.20,214.62 L119.70,216.15 L120.20,217.69 L120.70,219.25 L121.20,220.81 L121.70,222.39 L122.20,223.96 L122.70,225.53 L123.20,227.10 L123.70,228.65 L124.20,230.20 L124.70,231.72 L125.20,233.23 L125.70,234.71 L126.20,236.17 L126.70,237.60 L127.20,239.00 L127.70,240.37 L128.20,241.70 L128.70,243.01 L129.20,244.27 L129.70,245.50 L130.20,246.69 L130.70,247.84 L131.20,248.96 L131.70,250.03 L132.20,251.07 L132.70,252.06 L133.20,253.01 L133.70,253.93 L134.20,254.81 L134.70,255.65 L135.20,256.45 L135.70,257.21 L136.20,257.94 L136.70,258.63 L137.20,259.28 L137.70,259.90 L138.20,260.49 L138.70,261.05 L139.20,261.58 L139.70,262.07 L140.20,262.54 L140.70,262.98 L141.20,263.39 L141.70,263.78 L142.20,264.14 L142.70,264.48 L143.20,264.80 L143.70,265.10 L144.20,265.38 L144.70,265.64 L145.20,265.88 L145.70,266.10 L146.20,266.31 L146.70,266.50 L147.20,266.68 L147.70,266.84 L148.20,266.99 L148.70,267.13 L149.20,267.26 L149.70,267.38 L150.20,267.49 L150.70,267.59 L151.20,267.69 L151.70,267.77 L152.20,267.85 L152.70,267.92 L153.20,267.99 L153.70,268.05 L154.20,268.10 L154.70,268.15 L155.20,268.19 L155.70,268.23 L156.20,268.27 L156.70,268.30 L157.20,268.33 L157.70,268.36 L158.20,268.39 L158.70,268.41 L159.20,268.43 L159.70,268.45 L160.20,268.46 L160.70,268.48 L161.20,268.49 L161.70,268.50 L162.20,268.51" fill="none" stroke="#8e3a3a" stroke-width="1.3"/>
<rect x="17.50" y="179.6" width="27.6" height="20.6" fill="#fff" fill-opacity="0.85" stroke="#dcdcdc" stroke-width="0.7"/>
<line x1="18.90" y1="184.7" x2="29.10" y2="184.7" stroke="#8e3a3a" stroke-width="1.4"/>
<line x1="18.90" y1="194.4" x2="29.10" y2="194.4" stroke="#8c8c8c" stroke-width="1.2"/>
<text x="31.10" y="189" font-size="10.4" fill="#222" stroke="#222" stroke-width="0.30">‘1’</text>
<text x="31.10" y="198.8" font-size="10.4" fill="#222" stroke="#222" stroke-width="0.30">‘0’</text>
<rect x="98.60" y="237.0" width="63.80" height="12.2" fill="#fff" stroke="#dcdcdc" stroke-width="0.7"/>
<rect x="98.60" y="250.2" width="63.80" height="11.8" fill="#fff" stroke="#dcdcdc" stroke-width="0.7"/>
<text x="99.40" y="247.0" font-size="10.7" fill="#222" stroke="#222" stroke-width="0.30">D-Error 3.3%</text>
<text x="99.40" y="260.2" font-size="10.7" fill="#222" stroke="#222" stroke-width="0.30">C-Error 4.2%</text>
<rect x="15.50" y="177.50" width="147.70" height="93.70" fill="none" stroke="#8c8c8c" stroke-width="1"/>
<text x="1.10" y="185.3" font-size="10.8" fill="#222" stroke="#222" stroke-width="0.30">(b)</text>
<text transform="translate(12.60,226.5) rotate(-90)" text-anchor="middle" font-size="10.4" fill="#222" stroke="#222" stroke-width="0.30">PDF</text>
<text x="31.50" y="280.6" font-size="10.7" fill="#222" stroke="#222" stroke-width="0.30" text-anchor="middle">0</text>
<text x="85.20" y="280.6" font-size="10.7" fill="#8fb574" stroke="#8fb574" stroke-width="0.30" text-anchor="middle">1.03</text>
<text x="161.60" y="280.6" font-size="10.7" fill="#222" stroke="#222" stroke-width="0.30" text-anchor="middle">3</text>
<text x="89.75" y="289.6" font-size="10.7" fill="#222" stroke="#222" stroke-width="0.30" text-anchor="middle">Amplitude (a.u.)</text>
<line x1="185.60" y1="178.10" x2="185.60" y2="270.40" stroke="#e8e8e8" stroke-width="0.9"/>
<line x1="191.95" y1="178.10" x2="191.95" y2="270.40" stroke="#e8e8e8" stroke-width="0.9"/>
<line x1="198.30" y1="178.10" x2="198.30" y2="270.40" stroke="#e8e8e8" stroke-width="0.9"/>
<line x1="204.65" y1="178.10" x2="204.65" y2="270.40" stroke="#e8e8e8" stroke-width="0.9"/>
<line x1="211.00" y1="178.10" x2="211.00" y2="270.40" stroke="#e8e8e8" stroke-width="0.9"/>
<line x1="217.35" y1="178.10" x2="217.35" y2="270.40" stroke="#e8e8e8" stroke-width="0.9"/>
<line x1="223.70" y1="178.10" x2="223.70" y2="270.40" stroke="#e8e8e8" stroke-width="0.9"/>
<line x1="230.05" y1="178.10" x2="230.05" y2="270.40" stroke="#e8e8e8" stroke-width="0.9"/>
<line x1="236.40" y1="178.10" x2="236.40" y2="270.40" stroke="#e8e8e8" stroke-width="0.9"/>
<line x1="242.75" y1="178.10" x2="242.75" y2="270.40" stroke="#e8e8e8" stroke-width="0.9"/>
<line x1="249.10" y1="178.10" x2="249.10" y2="270.40" stroke="#e8e8e8" stroke-width="0.9"/>
<line x1="255.45" y1="178.10" x2="255.45" y2="270.40" stroke="#e8e8e8" stroke-width="0.9"/>
<line x1="261.80" y1="178.10" x2="261.80" y2="270.40" stroke="#e8e8e8" stroke-width="0.9"/>
<line x1="268.15" y1="178.10" x2="268.15" y2="270.40" stroke="#e8e8e8" stroke-width="0.9"/>
<line x1="274.50" y1="178.10" x2="274.50" y2="270.40" stroke="#e8e8e8" stroke-width="0.9"/>
<line x1="280.85" y1="178.10" x2="280.85" y2="270.40" stroke="#e8e8e8" stroke-width="0.9"/>
<line x1="287.20" y1="178.10" x2="287.20" y2="270.40" stroke="#e8e8e8" stroke-width="0.9"/>
<line x1="293.55" y1="178.10" x2="293.55" y2="270.40" stroke="#e8e8e8" stroke-width="0.9"/>
<line x1="299.90" y1="178.10" x2="299.90" y2="270.40" stroke="#e8e8e8" stroke-width="0.9"/>
<line x1="306.25" y1="178.10" x2="306.25" y2="270.40" stroke="#e8e8e8" stroke-width="0.9"/>
<line x1="312.60" y1="178.10" x2="312.60" y2="270.40" stroke="#e8e8e8" stroke-width="0.9"/>
<line x1="318.95" y1="178.10" x2="318.95" y2="270.40" stroke="#e8e8e8" stroke-width="0.9"/>
<line x1="325.30" y1="178.10" x2="325.30" y2="270.40" stroke="#e8e8e8" stroke-width="0.9"/>
<line x1="180.20" y1="261.70" x2="327.40" y2="261.70" stroke="#e8e8e8" stroke-width="0.9"/>
<line x1="180.20" y1="253.00" x2="327.40" y2="253.00" stroke="#e8e8e8" stroke-width="0.9"/>
<line x1="180.20" y1="244.30" x2="327.40" y2="244.30" stroke="#e8e8e8" stroke-width="0.9"/>
<line x1="180.20" y1="235.60" x2="327.40" y2="235.60" stroke="#e8e8e8" stroke-width="0.9"/>
<line x1="180.20" y1="226.90" x2="327.40" y2="226.90" stroke="#e8e8e8" stroke-width="0.9"/>
<line x1="180.20" y1="218.20" x2="327.40" y2="218.20" stroke="#e8e8e8" stroke-width="0.9"/>
<line x1="180.20" y1="209.50" x2="327.40" y2="209.50" stroke="#e8e8e8" stroke-width="0.9"/>
<line x1="180.20" y1="200.80" x2="327.40" y2="200.80" stroke="#e8e8e8" stroke-width="0.9"/>
<line x1="180.20" y1="192.10" x2="327.40" y2="192.10" stroke="#e8e8e8" stroke-width="0.9"/>
<line x1="180.20" y1="183.40" x2="327.40" y2="183.40" stroke="#e8e8e8" stroke-width="0.9"/>
<line x1="252.90" y1="178.60" x2="252.90" y2="270.90" stroke="#a9c98f" stroke-width="1.1"/>
<path d="M180.40,269.00 L180.90,269.00 L181.40,269.00 L181.90,269.00 L182.40,269.00 L182.90,269.00 L183.40,269.00 L183.90,269.00 L184.40,269.00 L184.90,269.00 L185.40,269.00 L185.90,269.00 L186.40,268.99 L186.90,268.99 L187.40,268.99 L187.90,268.99 L188.40,268.99 L188.90,268.98 L189.40,268.98 L189.90,268.98 L190.40,268.97 L190.90,268.96 L191.40,268.96 L191.90,268.95 L192.40,268.94 L192.90,268.93 L193.40,268.91 L193.90,268.90 L194.40,268.88 L194.90,268.86 L195.40,268.83 L195.90,268.80 L196.40,268.77 L196.90,268.72 L197.40,268.68 L197.90,268.62 L198.40,268.56 L198.90,268.49 L199.40,268.41 L199.90,268.32 L200.40,268.22 L200.90,268.10 L201.40,267.96 L201.90,267.81 L202.40,267.64 L202.90,267.45 L203.40,267.23 L203.90,267.00 L204.40,266.73 L204.90,266.43 L205.40,266.10 L205.90,265.74 L206.40,265.33 L206.90,264.89 L207.40,264.40 L207.90,263.87 L208.40,263.29 L208.90,262.65 L209.40,261.96 L209.90,261.21 L210.40,260.40 L210.90,259.53 L211.40,258.59 L211.90,257.58 L212.40,256.50 L212.90,255.34 L213.40,254.12 L213.90,252.81 L214.40,251.43 L214.90,249.98 L215.40,248.44 L215.90,246.83 L216.40,245.14 L216.90,243.38 L217.40,241.54 L217.90,239.64 L218.40,237.67 L218.90,235.63 L219.40,233.54 L219.90,231.39 L220.40,229.19 L220.90,226.96 L221.40,224.68 L221.90,222.38 L222.40,220.06 L222.90,217.73 L223.40,215.39 L223.90,213.06 L224.40,210.75 L224.90,208.46 L225.40,206.20 L225.90,203.99 L226.40,201.83 L226.90,199.73 L227.40,197.71 L227.90,195.77 L228.40,193.92 L228.90,192.17 L229.40,190.53 L229.90,189.00 L230.40,187.59 L230.90,186.31 L231.40,185.16 L231.90,184.15 L232.40,183.28 L232.90,182.55 L233.40,181.96 L233.90,181.52 L234.40,181.21 L234.90,181.04 L235.40,181.00 L235.90,181.07 L236.40,181.26 L236.90,181.60 L237.40,182.07 L237.90,182.69 L238.40,183.44 L238.90,184.34 L239.40,185.38 L239.90,186.56 L240.40,187.86 L240.90,189.30 L241.40,190.85 L241.90,192.51 L242.40,194.28 L242.90,196.15 L243.40,198.11 L243.90,200.15 L244.40,202.26 L244.90,204.43 L245.40,206.65 L245.90,208.91 L246.40,211.21 L246.90,213.53 L247.40,215.86 L247.90,218.19 L248.40,220.53 L248.90,222.84 L249.40,225.14 L249.90,227.41 L250.40,229.64 L250.90,231.82 L251.40,233.96 L251.90,236.04 L252.40,238.07 L252.90,240.02 L253.40,241.92 L253.90,243.74 L254.40,245.48 L254.90,247.16 L255.40,248.75 L255.90,250.27 L256.40,251.71 L256.90,253.08 L257.40,254.37 L257.90,255.58 L258.40,256.72 L258.90,257.78 L259.40,258.78 L259.90,259.71 L260.40,260.57 L260.90,261.37 L261.40,262.10 L261.90,262.78 L262.40,263.41 L262.90,263.98 L263.40,264.50 L263.90,264.98 L264.40,265.42 L264.90,265.81 L265.40,266.17 L265.90,266.49 L266.40,266.78 L266.90,267.05 L267.40,267.28 L267.90,267.49 L268.40,267.68 L268.90,267.84 L269.40,267.99 L269.90,268.12 L270.40,268.24 L270.90,268.34 L271.40,268.43 L271.90,268.51 L272.40,268.58 L272.90,268.64 L273.40,268.69 L273.90,268.73 L274.40,268.77 L274.90,268.81 L275.40,268.84 L275.90,268.86 L276.40,268.88 L276.90,268.90 L277.40,268.92 L277.90,268.93 L278.40,268.94 L278.90,268.95 L279.40,268.96 L279.90,268.97 L280.40,268.97 L280.90,268.98 L281.40,268.98 L281.90,268.98 L282.40,268.99 L282.90,268.99 L283.40,268.99 L283.90,268.99 L284.40,268.99 L284.90,269.00 L285.40,269.00 L285.90,269.00 L286.40,269.00 L286.90,269.00 L287.40,269.00 L287.90,269.00 L288.40,269.00 L288.90,269.00 L289.40,269.00 L289.90,269.00 L290.40,269.00 L290.90,269.00 L291.40,269.00 L291.90,269.00 L292.40,269.00 L292.90,269.00 L293.40,269.00 L293.90,269.00 L294.40,269.00 L294.90,269.00 L295.40,269.00 L295.90,269.00 L296.40,269.00 L296.90,269.00 L297.40,269.00 L297.90,269.00 L298.40,269.00 L298.90,269.00 L299.40,269.00 L299.90,269.00 L300.40,269.00 L300.90,269.00 L301.40,269.00 L301.90,269.00 L302.40,269.00 L302.90,269.00 L303.40,269.00 L303.90,269.00 L304.40,269.00 L304.90,269.00 L305.40,269.00 L305.90,269.00 L306.40,269.00 L306.90,269.00 L307.40,269.00 L307.90,269.00 L308.40,269.00 L308.90,269.00 L309.40,269.00 L309.90,269.00 L310.40,269.00 L310.90,269.00 L311.40,269.00 L311.90,269.00 L312.40,269.00 L312.90,269.00 L313.40,269.00 L313.90,269.00 L314.40,269.00 L314.90,269.00 L315.40,269.00 L315.90,269.00 L316.40,269.00 L316.90,269.00 L317.40,269.00 L317.90,269.00 L318.40,269.00 L318.90,269.00 L319.40,269.00 L319.90,269.00 L320.40,269.00 L320.90,269.00 L321.40,269.00 L321.90,269.00 L322.40,269.00 L322.90,269.00 L323.40,269.00 L323.90,269.00 L324.40,269.00 L324.90,269.00 L325.40,269.00 L325.90,269.00 L326.40,269.00 L326.90,269.00" fill="none" stroke="#a3a3a3" stroke-width="1.2"/>
<path d="M180.40,269.00 L180.90,269.00 L181.40,269.00 L181.90,269.00 L182.40,269.00 L182.90,269.00 L183.40,269.00 L183.90,269.00 L184.40,269.00 L184.90,269.00 L185.40,269.00 L185.90,269.00 L186.40,269.00 L186.90,269.00 L187.40,269.00 L187.90,269.00 L188.40,269.00 L188.90,269.00 L189.40,269.00 L189.90,269.00 L190.40,269.00 L190.90,269.00 L191.40,269.00 L191.90,269.00 L192.40,269.00 L192.90,269.00 L193.40,269.00 L193.90,269.00 L194.40,269.00 L194.90,269.00 L195.40,269.00 L195.90,269.00 L196.40,269.00 L196.90,269.00 L197.40,269.00 L197.90,269.00 L198.40,269.00 L198.90,269.00 L199.40,269.00 L199.90,269.00 L200.40,269.00 L200.90,269.00 L201.40,269.00 L201.90,269.00 L202.40,269.00 L202.90,269.00 L203.40,269.00 L203.90,269.00 L204.40,269.00 L204.90,269.00 L205.40,269.00 L205.90,269.00 L206.40,269.00 L206.90,269.00 L207.40,269.00 L207.90,269.00 L208.40,269.00 L208.90,269.00 L209.40,269.00 L209.90,269.00 L210.40,269.00 L210.90,269.00 L211.40,269.00 L211.90,269.00 L212.40,269.00 L212.90,269.00 L213.40,269.00 L213.90,269.00 L214.40,269.00 L214.90,269.00 L215.40,269.00 L215.90,269.00 L216.40,269.00 L216.90,269.00 L217.40,269.00 L217.90,269.00 L218.40,269.00 L218.90,269.00 L219.40,269.00 L219.90,268.99 L220.40,268.99 L220.90,268.99 L221.40,268.99 L221.90,268.99 L222.40,268.98 L222.90,268.98 L223.40,268.98 L223.90,268.97 L224.40,268.97 L224.90,268.96 L225.40,268.95 L225.90,268.94 L226.40,268.93 L226.90,268.92 L227.40,268.91 L227.90,268.89 L228.40,268.87 L228.90,268.85 L229.40,268.82 L229.90,268.79 L230.40,268.75 L230.90,268.71 L231.40,268.67 L231.90,268.61 L232.40,268.55 L232.90,268.48 L233.40,268.40 L233.90,268.31 L234.40,268.21 L234.90,268.09 L235.40,267.96 L235.90,267.81 L236.40,267.65 L236.90,267.46 L237.40,267.26 L237.90,267.03 L238.40,266.77 L238.90,266.49 L239.40,266.18 L239.90,265.84 L240.40,265.46 L240.90,265.04 L241.40,264.58 L241.90,264.09 L242.40,263.54 L242.90,262.95 L243.40,262.31 L243.90,261.62 L244.40,260.87 L244.90,260.06 L245.40,259.19 L245.90,258.26 L246.40,257.27 L246.90,256.21 L247.40,255.08 L247.90,253.89 L248.40,252.62 L248.90,251.28 L249.40,249.87 L249.90,248.39 L250.40,246.84 L250.90,245.22 L251.40,243.53 L251.90,241.77 L252.40,239.95 L252.90,238.07 L253.40,236.13 L253.90,234.13 L254.40,232.09 L254.90,229.99 L255.40,227.86 L255.90,225.69 L256.40,223.49 L256.90,221.27 L257.40,219.04 L257.90,216.80 L258.40,214.55 L258.90,212.32 L259.40,210.09 L259.90,207.90 L260.40,205.73 L260.90,203.60 L261.40,201.53 L261.90,199.51 L262.40,197.55 L262.90,195.66 L263.40,193.85 L263.90,192.13 L264.40,190.51 L264.90,188.98 L265.40,187.55 L265.90,186.24 L266.40,185.03 L266.90,183.95 L267.40,182.99 L267.90,182.14 L268.40,181.42 L268.90,180.83 L269.40,180.35 L269.90,180.00 L270.40,179.76 L270.90,179.63 L271.40,179.60 L271.90,179.65 L272.40,179.80 L272.90,180.06 L273.40,180.44 L273.90,180.94 L274.40,181.56 L274.90,182.30 L275.40,183.17 L275.90,184.16 L276.40,185.27 L276.90,186.49 L277.40,187.83 L277.90,189.27 L278.40,190.82 L278.90,192.47 L279.40,194.21 L279.90,196.03 L280.40,197.93 L280.90,199.90 L281.40,201.94 L281.90,204.03 L282.40,206.16 L282.90,208.33 L283.40,210.54 L283.90,212.76 L284.40,215.00 L284.90,217.24 L285.40,219.49 L285.90,221.72 L286.40,223.93 L286.90,226.13 L287.40,228.29 L287.90,230.41 L288.40,232.50 L288.90,234.54 L289.40,236.52 L289.90,238.45 L290.40,240.32 L290.90,242.13 L291.40,243.87 L291.90,245.55 L292.40,247.16 L292.90,248.69 L293.40,250.16 L293.90,251.55 L294.40,252.88 L294.90,254.13 L295.40,255.31 L295.90,256.43 L296.40,257.47 L296.90,258.45 L297.40,259.37 L297.90,260.23 L298.40,261.02 L298.90,261.76 L299.40,262.44 L299.90,263.07 L300.40,263.65 L300.90,264.19 L301.40,264.68 L301.90,265.13 L302.40,265.53 L302.90,265.91 L303.40,266.24 L303.90,266.55 L304.40,266.83 L304.90,267.08 L305.40,267.30 L305.90,267.50 L306.40,267.68 L306.90,267.84 L307.40,267.99 L307.90,268.12 L308.40,268.23 L308.90,268.33 L309.40,268.42 L309.90,268.49 L310.40,268.56 L310.90,268.62 L311.40,268.68 L311.90,268.72 L312.40,268.76 L312.90,268.80 L313.40,268.83 L313.90,268.85 L314.40,268.87 L314.90,268.89 L315.40,268.91 L315.90,268.92 L316.40,268.94 L316.90,268.95 L317.40,268.95 L317.90,268.96 L318.40,268.97 L318.90,268.97 L319.40,268.98 L319.90,268.98 L320.40,268.98 L320.90,268.99 L321.40,268.99 L321.90,268.99 L322.40,268.99 L322.90,268.99 L323.40,269.00 L323.90,269.00 L324.40,269.00 L324.90,269.00 L325.40,269.00 L325.90,269.00 L326.40,269.00 L326.90,269.00" fill="none" stroke="#8e3a3a" stroke-width="1.3"/>
<rect x="181.70" y="179.6" width="27.6" height="20.6" fill="#fff" fill-opacity="0.85" stroke="#dcdcdc" stroke-width="0.7"/>
<line x1="183.10" y1="184.7" x2="193.30" y2="184.7" stroke="#8e3a3a" stroke-width="1.4"/>
<line x1="183.10" y1="194.4" x2="193.30" y2="194.4" stroke="#8c8c8c" stroke-width="1.2"/>
<text x="195.30" y="189" font-size="10.4" fill="#222" stroke="#222" stroke-width="0.30">‘1’</text>
<text x="195.30" y="198.8" font-size="10.4" fill="#222" stroke="#222" stroke-width="0.30">‘0’</text>
<rect x="262.10" y="237.0" width="65.00" height="12.2" fill="#fff" stroke="#dcdcdc" stroke-width="0.7"/>
<rect x="262.10" y="250.2" width="65.00" height="11.8" fill="#fff" stroke="#dcdcdc" stroke-width="0.7"/>
<text x="262.90" y="247.0" font-size="10.7" fill="#222" stroke="#222" stroke-width="0.30">D-Error 6.5%</text>
<text x="262.90" y="260.2" font-size="10.7" fill="#222" stroke="#222" stroke-width="0.30">C-Error 5.3%</text>
<rect x="179.70" y="177.60" width="148.20" height="93.30" fill="none" stroke="#8c8c8c" stroke-width="1"/>
<text x="165.90" y="185.3" font-size="10.8" fill="#222" stroke="#222" stroke-width="0.30">(c)</text>
<text transform="translate(176.80,226.5) rotate(-90)" text-anchor="middle" font-size="10.4" fill="#222" stroke="#222" stroke-width="0.30">PDF</text>
<text x="199.20" y="280.6" font-size="10.7" fill="#222" stroke="#222" stroke-width="0.30" text-anchor="middle">0.1</text>
<text x="252.90" y="280.6" font-size="10.7" fill="#8fb574" stroke="#8fb574" stroke-width="0.30" text-anchor="middle">0.18</text>
<text x="312.30" y="280.6" font-size="10.7" fill="#222" stroke="#222" stroke-width="0.30" text-anchor="middle">0.29</text>
<text x="254.20" y="289.6" font-size="10.7" fill="#222" stroke="#222" stroke-width="0.30" text-anchor="middle">Amplitude (a.u.)</text>
<line x1="353.20" y1="178.10" x2="353.20" y2="270.40" stroke="#e8e8e8" stroke-width="0.9"/>
<line x1="360.56" y1="178.10" x2="360.56" y2="270.40" stroke="#e8e8e8" stroke-width="0.9"/>
<line x1="367.92" y1="178.10" x2="367.92" y2="270.40" stroke="#e8e8e8" stroke-width="0.9"/>
<line x1="375.28" y1="178.10" x2="375.28" y2="270.40" stroke="#e8e8e8" stroke-width="0.9"/>
<line x1="382.64" y1="178.10" x2="382.64" y2="270.40" stroke="#e8e8e8" stroke-width="0.9"/>
<line x1="390.00" y1="178.10" x2="390.00" y2="270.40" stroke="#e8e8e8" stroke-width="0.9"/>
<line x1="397.36" y1="178.10" x2="397.36" y2="270.40" stroke="#e8e8e8" stroke-width="0.9"/>
<line x1="404.72" y1="178.10" x2="404.72" y2="270.40" stroke="#e8e8e8" stroke-width="0.9"/>
<line x1="412.08" y1="178.10" x2="412.08" y2="270.40" stroke="#e8e8e8" stroke-width="0.9"/>
<line x1="419.44" y1="178.10" x2="419.44" y2="270.40" stroke="#e8e8e8" stroke-width="0.9"/>
<line x1="426.80" y1="178.10" x2="426.80" y2="270.40" stroke="#e8e8e8" stroke-width="0.9"/>
<line x1="434.16" y1="178.10" x2="434.16" y2="270.40" stroke="#e8e8e8" stroke-width="0.9"/>
<line x1="441.52" y1="178.10" x2="441.52" y2="270.40" stroke="#e8e8e8" stroke-width="0.9"/>
<line x1="448.88" y1="178.10" x2="448.88" y2="270.40" stroke="#e8e8e8" stroke-width="0.9"/>
<line x1="456.24" y1="178.10" x2="456.24" y2="270.40" stroke="#e8e8e8" stroke-width="0.9"/>
<line x1="463.60" y1="178.10" x2="463.60" y2="270.40" stroke="#e8e8e8" stroke-width="0.9"/>
<line x1="470.96" y1="178.10" x2="470.96" y2="270.40" stroke="#e8e8e8" stroke-width="0.9"/>
<line x1="478.32" y1="178.10" x2="478.32" y2="270.40" stroke="#e8e8e8" stroke-width="0.9"/>
<line x1="485.68" y1="178.10" x2="485.68" y2="270.40" stroke="#e8e8e8" stroke-width="0.9"/>
<line x1="346.00" y1="263.00" x2="492.80" y2="263.00" stroke="#e8e8e8" stroke-width="0.9"/>
<line x1="346.00" y1="255.64" x2="492.80" y2="255.64" stroke="#e8e8e8" stroke-width="0.9"/>
<line x1="346.00" y1="248.28" x2="492.80" y2="248.28" stroke="#e8e8e8" stroke-width="0.9"/>
<line x1="346.00" y1="240.92" x2="492.80" y2="240.92" stroke="#e8e8e8" stroke-width="0.9"/>
<line x1="346.00" y1="233.56" x2="492.80" y2="233.56" stroke="#e8e8e8" stroke-width="0.9"/>
<line x1="346.00" y1="226.20" x2="492.80" y2="226.20" stroke="#e8e8e8" stroke-width="0.9"/>
<line x1="346.00" y1="218.84" x2="492.80" y2="218.84" stroke="#e8e8e8" stroke-width="0.9"/>
<line x1="346.00" y1="211.48" x2="492.80" y2="211.48" stroke="#e8e8e8" stroke-width="0.9"/>
<line x1="346.00" y1="204.12" x2="492.80" y2="204.12" stroke="#e8e8e8" stroke-width="0.9"/>
<line x1="346.00" y1="196.76" x2="492.80" y2="196.76" stroke="#e8e8e8" stroke-width="0.9"/>
<line x1="346.00" y1="189.40" x2="492.80" y2="189.40" stroke="#e8e8e8" stroke-width="0.9"/>
<line x1="346.00" y1="182.04" x2="492.80" y2="182.04" stroke="#e8e8e8" stroke-width="0.9"/>
<line x1="418.70" y1="178.60" x2="418.70" y2="270.90" stroke="#a9c98f" stroke-width="1.1"/>
<path d="M346.20,269.00 L346.70,269.00 L347.20,269.00 L347.70,269.00 L348.20,269.00 L348.70,269.00 L349.20,269.00 L349.70,269.00 L350.20,269.00 L350.70,269.00 L351.20,269.00 L351.70,269.00 L352.20,269.00 L352.70,269.00 L353.20,269.00 L353.70,269.00 L354.20,268.99 L354.70,268.99 L355.20,268.99 L355.70,268.99 L356.20,268.99 L356.70,268.98 L357.20,268.98 L357.70,268.97 L358.20,268.97 L358.70,268.96 L359.20,268.95 L359.70,268.94 L360.20,268.92 L360.70,268.91 L361.20,268.88 L361.70,268.86 L362.20,268.83 L362.70,268.80 L363.20,268.75 L363.70,268.71 L364.20,268.65 L364.70,268.58 L365.20,268.50 L365.70,268.41 L366.20,268.30 L366.70,268.18 L367.20,268.04 L367.70,267.88 L368.20,267.70 L368.70,267.49 L369.20,267.25 L369.70,266.98 L370.20,266.68 L370.70,266.33 L371.20,265.95 L371.70,265.53 L372.20,265.05 L372.70,264.53 L373.20,263.95 L373.70,263.31 L374.20,262.61 L374.70,261.84 L375.20,261.01 L375.70,260.10 L376.20,259.12 L376.70,258.06 L377.20,256.93 L377.70,255.71 L378.20,254.41 L378.70,253.02 L379.20,251.56 L379.70,250.01 L380.20,248.37 L380.70,246.66 L381.20,244.86 L381.70,242.99 L382.20,241.05 L382.70,239.04 L383.20,236.97 L383.70,234.84 L384.20,232.66 L384.70,230.44 L385.20,228.18 L385.70,225.89 L386.20,223.58 L386.70,221.26 L387.20,218.93 L387.70,216.62 L388.20,214.32 L388.70,212.05 L389.20,209.82 L389.70,207.63 L390.20,205.50 L390.70,203.43 L391.20,201.43 L391.70,199.52 L392.20,197.69 L392.70,195.96 L393.20,194.33 L393.70,192.81 L394.20,191.40 L394.70,190.10 L395.20,188.92 L395.70,187.86 L396.20,186.92 L396.70,186.10 L397.20,185.40 L397.70,184.81 L398.20,184.34 L398.70,183.97 L399.20,183.70 L399.70,183.52 L400.20,183.43 L400.70,183.40 L401.20,183.41 L401.70,183.48 L402.20,183.62 L402.70,183.85 L403.20,184.18 L403.70,184.61 L404.20,185.15 L404.70,185.80 L405.20,186.58 L405.70,187.47 L406.20,188.48 L406.70,189.61 L407.20,190.86 L407.70,192.23 L408.20,193.71 L408.70,195.30 L409.20,196.99 L409.70,198.78 L410.20,200.66 L410.70,202.62 L411.20,204.66 L411.70,206.77 L412.20,208.94 L412.70,211.15 L413.20,213.41 L413.70,215.70 L414.20,218.01 L414.70,220.33 L415.20,222.65 L415.70,224.96 L416.20,227.26 L416.70,229.54 L417.20,231.78 L417.70,233.98 L418.20,236.13 L418.70,238.22 L419.20,240.26 L419.70,242.23 L420.20,244.12 L420.70,245.95 L421.20,247.70 L421.70,249.36 L422.20,250.95 L422.70,252.45 L423.20,253.86 L423.70,255.20 L424.20,256.45 L424.70,257.62 L425.20,258.71 L425.70,259.72 L426.20,260.65 L426.70,261.52 L427.20,262.31 L427.70,263.04 L428.20,263.70 L428.70,264.30 L429.20,264.85 L429.70,265.34 L430.20,265.79 L430.70,266.19 L431.20,266.54 L431.70,266.86 L432.20,267.15 L432.70,267.40 L433.20,267.62 L433.70,267.81 L434.20,267.98 L434.70,268.13 L435.20,268.26 L435.70,268.37 L436.20,268.47 L436.70,268.55 L437.20,268.62 L437.70,268.68 L438.20,268.74 L438.70,268.78 L439.20,268.82 L439.70,268.85 L440.20,268.88 L440.70,268.90 L441.20,268.92 L441.70,268.93 L442.20,268.94 L442.70,268.95 L443.20,268.96 L443.70,268.97 L444.20,268.98 L444.70,268.98 L445.20,268.98 L445.70,268.99 L446.20,268.99 L446.70,268.99 L447.20,268.99 L447.70,269.00 L448.20,269.00 L448.70,269.00 L449.20,269.00 L449.70,269.00 L450.20,269.00 L450.70,269.00 L451.20,269.00 L451.70,269.00 L452.20,269.00 L452.70,269.00 L453.20,269.00 L453.70,269.00 L454.20,269.00 L454.70,269.00 L455.20,269.00 L455.70,269.00 L456.20,269.00 L456.70,269.00 L457.20,269.00 L457.70,269.00 L458.20,269.00 L458.70,269.00 L459.20,269.00 L459.70,269.00 L460.20,269.00 L460.70,269.00 L461.20,269.00 L461.70,269.00 L462.20,269.00 L462.70,269.00 L463.20,269.00 L463.70,269.00 L464.20,269.00 L464.70,269.00 L465.20,269.00 L465.70,269.00 L466.20,269.00 L466.70,269.00 L467.20,269.00 L467.70,269.00 L468.20,269.00 L468.70,269.00 L469.20,269.00 L469.70,269.00 L470.20,269.00 L470.70,269.00 L471.20,269.00 L471.70,269.00 L472.20,269.00 L472.70,269.00 L473.20,269.00 L473.70,269.00 L474.20,269.00 L474.70,269.00 L475.20,269.00 L475.70,269.00 L476.20,269.00 L476.70,269.00 L477.20,269.00 L477.70,269.00 L478.20,269.00 L478.70,269.00 L479.20,269.00 L479.70,269.00 L480.20,269.00 L480.70,269.00 L481.20,269.00 L481.70,269.00 L482.20,269.00 L482.70,269.00 L483.20,269.00 L483.70,269.00 L484.20,269.00 L484.70,269.00 L485.20,269.00 L485.70,269.00 L486.20,269.00 L486.70,269.00 L487.20,269.00 L487.70,269.00 L488.20,269.00 L488.70,269.00 L489.20,269.00 L489.70,269.00 L490.20,269.00 L490.70,269.00 L491.20,269.00 L491.70,269.00 L492.20,269.00" fill="none" stroke="#a3a3a3" stroke-width="1.2"/>
<path d="M346.20,269.00 L346.70,269.00 L347.20,269.00 L347.70,269.00 L348.20,269.00 L348.70,269.00 L349.20,269.00 L349.70,269.00 L350.20,269.00 L350.70,269.00 L351.20,269.00 L351.70,269.00 L352.20,269.00 L352.70,269.00 L353.20,269.00 L353.70,269.00 L354.20,269.00 L354.70,269.00 L355.20,269.00 L355.70,269.00 L356.20,269.00 L356.70,269.00 L357.20,269.00 L357.70,269.00 L358.20,269.00 L358.70,269.00 L359.20,269.00 L359.70,269.00 L360.20,269.00 L360.70,269.00 L361.20,269.00 L361.70,269.00 L362.20,269.00 L362.70,269.00 L363.20,269.00 L363.70,269.00 L364.20,269.00 L364.70,269.00 L365.20,269.00 L365.70,269.00 L366.20,269.00 L366.70,269.00 L367.20,269.00 L367.70,269.00 L368.20,269.00 L368.70,269.00 L369.20,269.00 L369.70,269.00 L370.20,269.00 L370.70,269.00 L371.20,269.00 L371.70,269.00 L372.20,269.00 L372.70,269.00 L373.20,269.00 L373.70,269.00 L374.20,269.00 L374.70,269.00 L375.20,269.00 L375.70,269.00 L376.20,269.00 L376.70,269.00 L377.20,269.00 L377.70,269.00 L378.20,269.00 L378.70,269.00 L379.20,269.00 L379.70,269.00 L380.20,269.00 L380.70,269.00 L381.20,269.00 L381.70,269.00 L382.20,269.00 L382.70,269.00 L383.20,269.00 L383.70,269.00 L384.20,269.00 L384.70,269.00 L385.20,269.00 L385.70,269.00 L386.20,269.00 L386.70,269.00 L387.20,268.99 L387.70,268.99 L388.20,268.99 L388.70,268.99 L389.20,268.99 L389.70,268.99 L390.20,268.98 L390.70,268.98 L391.20,268.97 L391.70,268.97 L392.20,268.96 L392.70,268.95 L393.20,268.94 L393.70,268.93 L394.20,268.92 L394.70,268.91 L395.20,268.89 L395.70,268.87 L396.20,268.84 L396.70,268.82 L397.20,268.78 L397.70,268.75 L398.20,268.70 L398.70,268.65 L399.20,268.60 L399.70,268.53 L400.20,268.46 L400.70,268.37 L401.20,268.27 L401.70,268.16 L402.20,268.04 L402.70,267.89 L403.20,267.73 L403.70,267.55 L404.20,267.35 L404.70,267.13 L405.20,266.87 L405.70,266.59 L406.20,266.28 L406.70,265.93 L407.20,265.55 L407.70,265.13 L408.20,264.66 L408.70,264.15 L409.20,263.59 L409.70,262.98 L410.20,262.32 L410.70,261.60 L411.20,260.82 L411.70,259.98 L412.20,259.07 L412.70,258.09 L413.20,257.05 L413.70,255.93 L414.20,254.73 L414.70,253.46 L415.20,252.12 L415.70,250.69 L416.20,249.19 L416.70,247.61 L417.20,245.96 L417.70,244.22 L418.20,242.41 L418.70,240.53 L419.20,238.58 L419.70,236.57 L420.20,234.49 L420.70,232.35 L421.20,230.17 L421.70,227.93 L422.20,225.66 L422.70,223.35 L423.20,221.02 L423.70,218.68 L424.20,216.32 L424.70,213.96 L425.20,211.62 L425.70,209.29 L426.20,206.99 L426.70,204.73 L427.20,202.52 L427.70,200.36 L428.20,198.28 L428.70,196.27 L429.20,194.35 L429.70,192.52 L430.20,190.80 L430.70,189.18 L431.20,187.69 L431.70,186.32 L432.20,185.08 L432.70,183.98 L433.20,183.01 L433.70,182.19 L434.20,181.51 L434.70,180.98 L435.20,180.58 L435.70,180.33 L436.20,180.21 L436.70,180.21 L437.20,180.33 L437.70,180.58 L438.20,180.98 L438.70,181.51 L439.20,182.19 L439.70,183.01 L440.20,183.98 L440.70,185.08 L441.20,186.32 L441.70,187.69 L442.20,189.18 L442.70,190.80 L443.20,192.52 L443.70,194.35 L444.20,196.27 L444.70,198.28 L445.20,200.36 L445.70,202.52 L446.20,204.73 L446.70,206.99 L447.20,209.29 L447.70,211.62 L448.20,213.96 L448.70,216.32 L449.20,218.68 L449.70,221.02 L450.20,223.35 L450.70,225.66 L451.20,227.93 L451.70,230.17 L452.20,232.35 L452.70,234.49 L453.20,236.57 L453.70,238.58 L454.20,240.53 L454.70,242.41 L455.20,244.22 L455.70,245.96 L456.20,247.61 L456.70,249.19 L457.20,250.69 L457.70,252.12 L458.20,253.46 L458.70,254.73 L459.20,255.93 L459.70,257.05 L460.20,258.09 L460.70,259.07 L461.20,259.98 L461.70,260.82 L462.20,261.60 L462.70,262.32 L463.20,262.98 L463.70,263.59 L464.20,264.15 L464.70,264.66 L465.20,265.13 L465.70,265.55 L466.20,265.93 L466.70,266.28 L467.20,266.59 L467.70,266.87 L468.20,267.13 L468.70,267.35 L469.20,267.55 L469.70,267.73 L470.20,267.89 L470.70,268.04 L471.20,268.16 L471.70,268.27 L472.20,268.37 L472.70,268.46 L473.20,268.53 L473.70,268.60 L474.20,268.65 L474.70,268.70 L475.20,268.75 L475.70,268.78 L476.20,268.82 L476.70,268.84 L477.20,268.87 L477.70,268.89 L478.20,268.91 L478.70,268.92 L479.20,268.93 L479.70,268.94 L480.20,268.95 L480.70,268.96 L481.20,268.97 L481.70,268.97 L482.20,268.98 L482.70,268.98 L483.20,268.99 L483.70,268.99 L484.20,268.99 L484.70,268.99 L485.20,268.99 L485.70,268.99 L486.20,269.00 L486.70,269.00 L487.20,269.00 L487.70,269.00 L488.20,269.00 L488.70,269.00 L489.20,269.00 L489.70,269.00 L490.20,269.00 L490.70,269.00 L491.20,269.00 L491.70,269.00 L492.20,269.00" fill="none" stroke="#8e3a3a" stroke-width="1.3"/>
<rect x="347.50" y="179.6" width="27.6" height="20.6" fill="#fff" fill-opacity="0.85" stroke="#dcdcdc" stroke-width="0.7"/>
<line x1="348.90" y1="184.7" x2="359.10" y2="184.7" stroke="#8e3a3a" stroke-width="1.4"/>
<line x1="348.90" y1="194.4" x2="359.10" y2="194.4" stroke="#8c8c8c" stroke-width="1.2"/>
<text x="361.10" y="189" font-size="10.4" fill="#222" stroke="#222" stroke-width="0.30">‘1’</text>
<text x="361.10" y="198.8" font-size="10.4" fill="#222" stroke="#222" stroke-width="0.30">‘0’</text>
<rect x="427.50" y="237.0" width="65.00" height="12.2" fill="#fff" stroke="#dcdcdc" stroke-width="0.7"/>
<rect x="427.50" y="250.2" width="65.00" height="11.8" fill="#fff" stroke="#dcdcdc" stroke-width="0.7"/>
<text x="428.30" y="247.0" font-size="10.7" fill="#222" stroke="#222" stroke-width="0.30">D-Error 7.1%</text>
<text x="428.30" y="260.2" font-size="10.7" fill="#222" stroke="#222" stroke-width="0.30">C-Error 6.1%</text>
<rect x="345.50" y="177.60" width="147.80" height="93.30" fill="none" stroke="#8c8c8c" stroke-width="1"/>
<text x="331.70" y="185.3" font-size="10.8" fill="#222" stroke="#222" stroke-width="0.30">(d)</text>
<text transform="translate(342.60,226.5) rotate(-90)" text-anchor="middle" font-size="10.4" fill="#222" stroke="#222" stroke-width="0.30">PDF</text>
<text x="359.90" y="280.6" font-size="10.7" fill="#222" stroke="#222" stroke-width="0.30" text-anchor="middle">0.22</text>
<text x="419.00" y="280.6" font-size="10.7" fill="#8fb574" stroke="#8fb574" stroke-width="0.30" text-anchor="middle">0.26</text>
<text x="475.80" y="280.6" font-size="10.7" fill="#222" stroke="#222" stroke-width="0.30" text-anchor="middle">0.3</text>
<text x="419.80" y="289.6" font-size="10.7" fill="#222" stroke="#222" stroke-width="0.30" text-anchor="middle">Amplitude (a.u.)</text>
<rect x="513.3" y="15.9" width="151.2" height="251.6" fill="#b9bcb9"/>
<rect x="514.30" y="16.80" width="24.05" height="25.03" fill="rgb(86,18,31)"/>
<text x="526.30" y="32.80" font-size="11" fill="#f2ecec" stroke="#f2ecec" stroke-width="0.12" text-anchor="middle">98.8</text>
<rect x="538.30" y="16.80" width="24.55" height="25.03" fill="rgb(248,243,240)"/>
<text x="550.55" y="32.80" font-size="11" fill="#262626" stroke="#262626" stroke-width="0.25" text-anchor="middle">1.2</text>
<rect x="514.30" y="41.78" width="24.05" height="25.03" fill="rgb(249,244,241)"/>
<text x="526.30" y="57.78" font-size="11" fill="#262626" stroke="#262626" stroke-width="0.25" text-anchor="middle">0.8</text>
<rect x="538.30" y="41.78" width="24.55" height="25.03" fill="rgb(84,17,31)"/>
<text x="550.55" y="57.78" font-size="11" fill="#f2ecec" stroke="#f2ecec" stroke-width="0.12" text-anchor="middle">99.2</text>
<rect x="514.30" y="66.76" width="24.05" height="25.03" fill="rgb(91,19,32)"/>
<text x="526.30" y="82.76" font-size="11" fill="#f2ecec" stroke="#f2ecec" stroke-width="0.12" text-anchor="middle">97.4</text>
<rect x="538.30" y="66.76" width="24.55" height="25.03" fill="rgb(247,241,236)"/>
<text x="550.55" y="82.76" font-size="11" fill="#262626" stroke="#262626" stroke-width="0.25" text-anchor="middle">2.6</text>
<rect x="514.30" y="91.74" width="24.05" height="25.03" fill="rgb(241,228,221)"/>
<text x="526.30" y="107.74" font-size="11" fill="#262626" stroke="#262626" stroke-width="0.25" text-anchor="middle">9.4</text>
<rect x="538.30" y="91.74" width="24.55" height="25.03" fill="rgb(115,25,35)"/>
<text x="550.55" y="107.74" font-size="11" fill="#f2ecec" stroke="#f2ecec" stroke-width="0.12" text-anchor="middle">90.6</text>
<rect x="514.30" y="116.72" width="24.05" height="25.03" fill="rgb(111,24,35)"/>
<text x="526.30" y="132.72" font-size="11" fill="#f2ecec" stroke="#f2ecec" stroke-width="0.12" text-anchor="middle">91.8</text>
<rect x="538.30" y="116.72" width="24.55" height="25.03" fill="rgb(242,230,223)"/>
<text x="550.55" y="132.72" font-size="11" fill="#262626" stroke="#262626" stroke-width="0.25" text-anchor="middle">8.2</text>
<rect x="514.30" y="141.70" width="24.05" height="25.03" fill="rgb(248,243,240)"/>
<text x="526.30" y="157.70" font-size="11" fill="#262626" stroke="#262626" stroke-width="0.25" text-anchor="middle">1.2</text>
<rect x="538.30" y="141.70" width="24.55" height="25.03" fill="rgb(86,18,31)"/>
<text x="550.55" y="157.70" font-size="11" fill="#f2ecec" stroke="#f2ecec" stroke-width="0.12" text-anchor="middle">98.8</text>
<rect x="514.30" y="166.68" width="24.05" height="25.03" fill="rgb(82,17,31)"/>
<text x="526.30" y="182.68" font-size="11" fill="#f2ecec" stroke="#f2ecec" stroke-width="0.12" text-anchor="middle">100</text>
<rect x="538.30" y="166.68" width="24.55" height="25.03" fill="rgb(250,246,243)"/>
<text x="550.55" y="182.68" font-size="11" fill="#262626" stroke="#262626" stroke-width="0.25" text-anchor="middle">0</text>
<rect x="514.30" y="191.66" width="24.05" height="25.03" fill="rgb(248,242,238)"/>
<text x="526.30" y="207.66" font-size="11" fill="#262626" stroke="#262626" stroke-width="0.25" text-anchor="middle">2</text>
<rect x="538.30" y="191.66" width="24.55" height="25.03" fill="rgb(89,18,32)"/>
<text x="550.55" y="207.66" font-size="11" fill="#f2ecec" stroke="#f2ecec" stroke-width="0.12" text-anchor="middle">98</text>
<rect x="514.30" y="216.64" width="24.05" height="25.03" fill="rgb(102,22,33)"/>
<text x="526.30" y="232.64" font-size="11" fill="#f2ecec" stroke="#f2ecec" stroke-width="0.12" text-anchor="middle">94.3</text>
<rect x="538.30" y="216.64" width="24.55" height="25.03" fill="rgb(244,235,229)"/>
<text x="550.55" y="232.64" font-size="11" fill="#262626" stroke="#262626" stroke-width="0.25" text-anchor="middle">5.7</text>
<rect x="514.30" y="241.62" width="24.05" height="25.03" fill="rgb(239,225,217)"/>
<text x="526.30" y="257.62" font-size="11" fill="#262626" stroke="#262626" stroke-width="0.25" text-anchor="middle">10.8</text>
<rect x="538.30" y="241.62" width="24.55" height="25.03" fill="rgb(119,26,36)"/>
<text x="550.55" y="257.62" font-size="11" fill="#f2ecec" stroke="#f2ecec" stroke-width="0.12" text-anchor="middle">89.2</text>
<rect x="564.70" y="16.80" width="24.35" height="25.03" fill="rgb(40,55,118)"/>
<text x="576.85" y="32.80" font-size="11" fill="#f2ecec" stroke="#f2ecec" stroke-width="0.12" text-anchor="middle">97.6</text>
<rect x="589.00" y="16.80" width="24.45" height="25.03" fill="rgb(242,244,251)"/>
<text x="601.20" y="32.80" font-size="11" fill="#262626" stroke="#262626" stroke-width="0.25" text-anchor="middle">2.4</text>
<rect x="564.70" y="41.78" width="24.35" height="25.03" fill="rgb(240,242,251)"/>
<text x="576.85" y="57.78" font-size="11" fill="#262626" stroke="#262626" stroke-width="0.25" text-anchor="middle">4</text>
<rect x="589.00" y="41.78" width="24.45" height="25.03" fill="rgb(43,60,126)"/>
<text x="601.20" y="57.78" font-size="11" fill="#f2ecec" stroke="#f2ecec" stroke-width="0.12" text-anchor="middle">96</text>
<rect x="564.70" y="66.76" width="24.35" height="25.03" fill="rgb(43,60,128)"/>
<text x="576.85" y="82.76" font-size="11" fill="#f2ecec" stroke="#f2ecec" stroke-width="0.12" text-anchor="middle">95.7</text>
<rect x="589.00" y="66.76" width="24.45" height="25.03" fill="rgb(240,242,250)"/>
<text x="601.20" y="82.76" font-size="11" fill="#262626" stroke="#262626" stroke-width="0.25" text-anchor="middle">4.3</text>
<rect x="564.70" y="91.74" width="24.35" height="25.03" fill="rgb(232,236,248)"/>
<text x="576.85" y="107.74" font-size="11" fill="#262626" stroke="#262626" stroke-width="0.25" text-anchor="middle">10.3</text>
<rect x="589.00" y="91.74" width="24.45" height="25.03" fill="rgb(54,78,158)"/>
<text x="601.20" y="107.74" font-size="11" fill="#f2ecec" stroke="#f2ecec" stroke-width="0.12" text-anchor="middle">89.7</text>
<rect x="564.70" y="116.72" width="24.35" height="25.03" fill="rgb(61,85,165)"/>
<text x="576.85" y="132.72" font-size="11" fill="#f2ecec" stroke="#f2ecec" stroke-width="0.12" text-anchor="middle">85.5</text>
<rect x="589.00" y="116.72" width="24.45" height="25.03" fill="rgb(226,231,246)"/>
<text x="601.20" y="132.72" font-size="11" fill="#262626" stroke="#262626" stroke-width="0.25" text-anchor="middle">14.5</text>
<rect x="564.70" y="141.70" width="24.35" height="25.03" fill="rgb(242,244,251)"/>
<text x="576.85" y="157.70" font-size="11" fill="#262626" stroke="#262626" stroke-width="0.25" text-anchor="middle">2.3</text>
<rect x="589.00" y="141.70" width="24.45" height="25.03" fill="rgb(40,54,117)"/>
<text x="601.20" y="157.70" font-size="11" fill="#f2ecec" stroke="#f2ecec" stroke-width="0.12" text-anchor="middle">97.7</text>
<rect x="564.70" y="166.68" width="24.35" height="25.03" fill="rgb(44,61,129)"/>
<text x="576.85" y="182.68" font-size="11" fill="#f2ecec" stroke="#f2ecec" stroke-width="0.12" text-anchor="middle">95.4</text>
<rect x="589.00" y="166.68" width="24.45" height="25.03" fill="rgb(239,242,250)"/>
<text x="601.20" y="182.68" font-size="11" fill="#262626" stroke="#262626" stroke-width="0.25" text-anchor="middle">4.6</text>
<rect x="564.70" y="191.66" width="24.35" height="25.03" fill="rgb(243,244,252)"/>
<text x="576.85" y="207.66" font-size="11" fill="#262626" stroke="#262626" stroke-width="0.25" text-anchor="middle">2</text>
<rect x="589.00" y="191.66" width="24.45" height="25.03" fill="rgb(39,54,116)"/>
<text x="601.20" y="207.66" font-size="11" fill="#f2ecec" stroke="#f2ecec" stroke-width="0.12" text-anchor="middle">98</text>
<rect x="564.70" y="216.64" width="24.35" height="25.03" fill="rgb(48,68,141)"/>
<text x="576.85" y="232.64" font-size="11" fill="#f2ecec" stroke="#f2ecec" stroke-width="0.12" text-anchor="middle">93.1</text>
<rect x="589.00" y="216.64" width="24.45" height="25.03" fill="rgb(236,239,249)"/>
<text x="601.20" y="232.64" font-size="11" fill="#262626" stroke="#262626" stroke-width="0.25" text-anchor="middle">6.9</text>
<rect x="564.70" y="241.62" width="24.35" height="25.03" fill="rgb(231,235,247)"/>
<text x="576.85" y="257.62" font-size="11" fill="#262626" stroke="#262626" stroke-width="0.25" text-anchor="middle">10.8</text>
<rect x="589.00" y="241.62" width="24.45" height="25.03" fill="rgb(55,79,159)"/>
<text x="601.20" y="257.62" font-size="11" fill="#f2ecec" stroke="#f2ecec" stroke-width="0.12" text-anchor="middle">89.2</text>
<rect x="615.10" y="16.80" width="24.35" height="25.03" fill="rgb(54,80,42)"/>
<text x="627.25" y="32.80" font-size="11" fill="#f2ecec" stroke="#f2ecec" stroke-width="0.12" text-anchor="middle">97.6</text>
<rect x="639.40" y="16.80" width="24.35" height="25.03" fill="rgb(244,248,239)"/>
<text x="651.55" y="32.80" font-size="11" fill="#262626" stroke="#262626" stroke-width="0.25" text-anchor="middle">2.4</text>
<rect x="615.10" y="41.78" width="24.35" height="25.03" fill="rgb(242,246,236)"/>
<text x="627.25" y="57.78" font-size="11" fill="#262626" stroke="#262626" stroke-width="0.25" text-anchor="middle">4.8</text>
<rect x="639.40" y="41.78" width="24.35" height="25.03" fill="rgb(61,90,47)"/>
<text x="651.55" y="57.78" font-size="11" fill="#f2ecec" stroke="#f2ecec" stroke-width="0.12" text-anchor="middle">95.2</text>
<rect x="615.10" y="66.76" width="24.35" height="25.03" fill="rgb(65,95,50)"/>
<text x="627.25" y="82.76" font-size="11" fill="#f2ecec" stroke="#f2ecec" stroke-width="0.12" text-anchor="middle">93.9</text>
<rect x="639.40" y="66.76" width="24.35" height="25.03" fill="rgb(240,245,234)"/>
<text x="651.55" y="82.76" font-size="11" fill="#262626" stroke="#262626" stroke-width="0.25" text-anchor="middle">6.1</text>
<rect x="615.10" y="91.74" width="24.35" height="25.03" fill="rgb(240,245,234)"/>
<text x="627.25" y="107.74" font-size="11" fill="#262626" stroke="#262626" stroke-width="0.25" text-anchor="middle">6.6</text>
<rect x="639.40" y="91.74" width="24.35" height="25.03" fill="rgb(66,97,51)"/>
<text x="651.55" y="107.74" font-size="11" fill="#f2ecec" stroke="#f2ecec" stroke-width="0.12" text-anchor="middle">93.4</text>
<rect x="615.10" y="116.72" width="24.35" height="25.03" fill="rgb(78,115,60)"/>
<text x="627.25" y="132.72" font-size="11" fill="#f2ecec" stroke="#f2ecec" stroke-width="0.12" text-anchor="middle">87.3</text>
<rect x="639.40" y="116.72" width="24.35" height="25.03" fill="rgb(234,241,226)"/>
<text x="651.55" y="132.72" font-size="11" fill="#262626" stroke="#262626" stroke-width="0.25" text-anchor="middle">12.7</text>
<rect x="615.10" y="141.70" width="24.35" height="25.03" fill="rgb(244,248,239)"/>
<text x="627.25" y="157.70" font-size="11" fill="#262626" stroke="#262626" stroke-width="0.25" text-anchor="middle">2.3</text>
<rect x="639.40" y="141.70" width="24.35" height="25.03" fill="rgb(54,79,42)"/>
<text x="651.55" y="157.70" font-size="11" fill="#f2ecec" stroke="#f2ecec" stroke-width="0.12" text-anchor="middle">97.7</text>
<rect x="615.10" y="166.68" width="24.35" height="25.03" fill="rgb(64,94,49)"/>
<text x="627.25" y="182.68" font-size="11" fill="#f2ecec" stroke="#f2ecec" stroke-width="0.12" text-anchor="middle">94.2</text>
<rect x="639.40" y="166.68" width="24.35" height="25.03" fill="rgb(241,246,235)"/>
<text x="651.55" y="182.68" font-size="11" fill="#262626" stroke="#262626" stroke-width="0.25" text-anchor="middle">5.8</text>
<rect x="615.10" y="191.66" width="24.35" height="25.03" fill="rgb(246,249,240)"/>
<text x="627.25" y="207.66" font-size="11" fill="#262626" stroke="#262626" stroke-width="0.25" text-anchor="middle">1</text>
<rect x="639.40" y="191.66" width="24.35" height="25.03" fill="rgb(50,74,40)"/>
<text x="651.55" y="207.66" font-size="11" fill="#f2ecec" stroke="#f2ecec" stroke-width="0.12" text-anchor="middle">99</text>
<rect x="615.10" y="216.64" width="24.35" height="25.03" fill="rgb(70,103,53)"/>
<text x="627.25" y="232.64" font-size="11" fill="#f2ecec" stroke="#f2ecec" stroke-width="0.12" text-anchor="middle">92.1</text>
<rect x="639.40" y="216.64" width="24.35" height="25.03" fill="rgb(239,244,232)"/>
<text x="651.55" y="232.64" font-size="11" fill="#262626" stroke="#262626" stroke-width="0.25" text-anchor="middle">7.9</text>
<rect x="615.10" y="241.62" width="24.35" height="25.03" fill="rgb(236,242,229)"/>
<text x="627.25" y="257.62" font-size="11" fill="#262626" stroke="#262626" stroke-width="0.25" text-anchor="middle">10.8</text>
<rect x="639.40" y="241.62" width="24.35" height="25.03" fill="rgb(76,112,58)"/>
<text x="651.55" y="257.62" font-size="11" fill="#f2ecec" stroke="#f2ecec" stroke-width="0.12" text-anchor="middle">89.2</text>
<g font-size="10.6" fill="#222" stroke="#222" stroke-width="0.30" text-anchor="middle">
<text x="538.5" y="13.2">Ideal</text>
<text x="588.2" y="13.2">Optimistic</text>
<text x="639.2" y="13.2">Realistic</text>
<text x="509.6" y="32.80" font-size="11">0</text>
<text x="509.6" y="57.78" font-size="11">1</text>
<text x="509.6" y="82.76" font-size="11">2</text>
<text x="509.6" y="107.74" font-size="11">3</text>
<text x="509.6" y="132.72" font-size="11">4</text>
<text x="509.6" y="157.70" font-size="11">5</text>
<text x="509.6" y="182.68" font-size="11">6</text>
<text x="509.6" y="207.66" font-size="11">7</text>
<text x="509.6" y="232.64" font-size="11">8</text>
<text x="509.6" y="257.62" font-size="11">9</text>
<text x="526.10" y="277.5">0</text>
<text x="550.90" y="277.5">1</text>
<text x="578.50" y="277.5">0</text>
<text x="603.20" y="277.5">1</text>
<text x="627.10" y="277.5">0</text>
<text x="652.00" y="277.5">1</text>
<text x="588.5" y="290.2">Predicted label</text>
</g>
<text transform="translate(502.6,135.4) rotate(-90)" text-anchor="middle" font-size="10.2" fill="#222" stroke="#222" stroke-width="0.30">True label</text>
<text x="495.6" y="10.4" font-size="10.4" fill="#222" stroke="#222" stroke-width="0.30">(e)</text>
</svg>
</body></html>
